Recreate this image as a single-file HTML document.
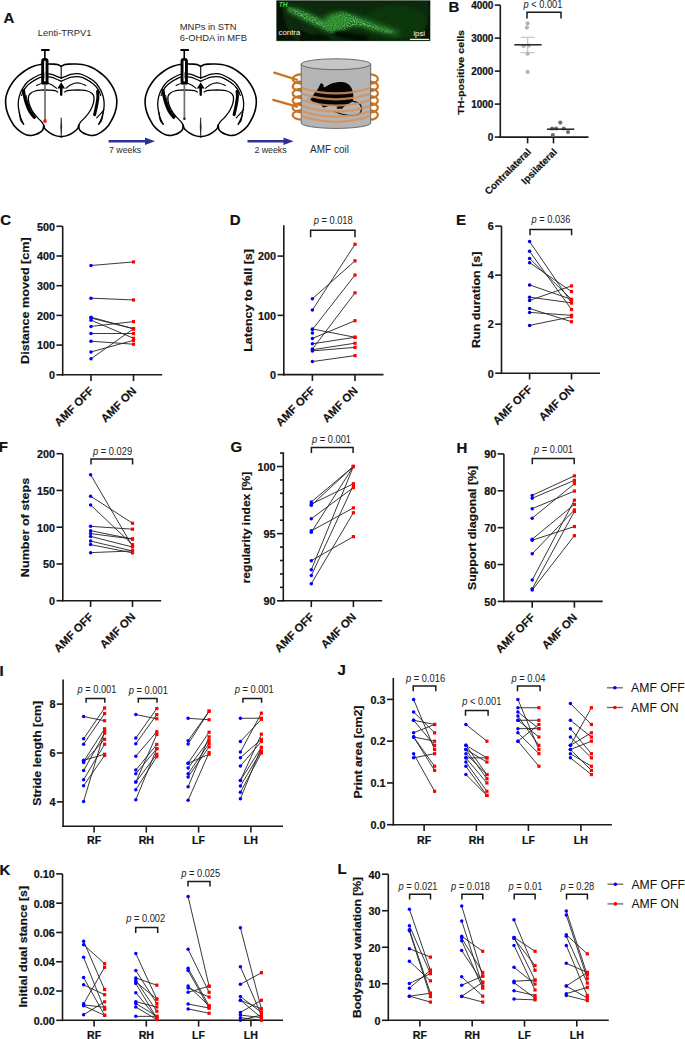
<!DOCTYPE html>
<html><head><meta charset="utf-8"><style>
html,body{margin:0;padding:0;background:#fff;}
svg{display:block;}
text[font-weight="bold"]{stroke:#111;stroke-width:0.2px;}
</style></head><body>
<svg width="685" height="1039" viewBox="0 0 685 1039" font-family='"Liberation Sans", sans-serif' fill="#111">
<rect width="685" height="1039" fill="#fff"/>
<text x="3.6" y="23" font-size="15" font-weight="bold">A</text>
<g transform="translate(0 0)">
<path d="M61.20 66.40 C60.58 66.10 58.77 64.98 57.50 64.60 C56.23 64.22 55.43 64.20 53.60 64.10 C51.77 64.00 48.72 63.93 46.50 64.00 C44.28 64.07 42.35 64.17 40.30 64.50 C38.25 64.83 36.08 65.37 34.20 66.00 C32.32 66.63 30.72 67.38 29.00 68.30 C27.28 69.22 25.48 70.40 23.90 71.50 C22.32 72.60 20.93 73.65 19.50 74.90 C18.07 76.15 16.57 77.57 15.30 79.00 C14.03 80.43 12.93 81.97 11.90 83.50 C10.87 85.03 9.90 86.62 9.10 88.20 C8.30 89.78 7.63 91.45 7.10 93.00 C6.57 94.55 6.15 95.92 5.90 97.50 C5.65 99.08 5.55 100.73 5.60 102.50 C5.65 104.27 5.90 106.43 6.20 108.10 C6.50 109.77 6.93 111.07 7.40 112.50 C7.87 113.93 8.35 115.25 9.00 116.70 C9.65 118.15 10.50 119.78 11.30 121.20 C12.10 122.62 12.92 124.00 13.80 125.20 C14.68 126.40 15.65 127.45 16.60 128.40 C17.55 129.35 18.47 130.12 19.50 130.90 C20.53 131.68 21.70 132.47 22.80 133.10 C23.90 133.73 24.98 134.32 26.10 134.70 C27.22 135.08 28.38 135.32 29.50 135.40 C30.62 135.48 31.67 135.38 32.80 135.20 C33.93 135.02 35.20 134.70 36.30 134.30 C37.40 133.90 38.48 133.35 39.40 132.80 C40.32 132.25 41.17 131.63 41.80 131.00 C42.43 130.37 42.88 129.97 43.20 129.00 C43.52 128.03 43.62 125.83 43.70 125.20" fill="none" stroke="#000" stroke-linecap="round" stroke-linejoin="round" stroke-width="1.6"/>
<path d="M43.70 125.20 C43.93 125.83 44.08 127.73 45.10 129.00 C46.12 130.27 48.07 131.70 49.80 132.80 C51.53 133.90 53.60 134.93 55.50 135.60 C57.40 136.27 60.25 136.60 61.20 136.80" fill="none" stroke="#000" stroke-linecap="round" stroke-linejoin="round" stroke-width="1.5"/>
<path d="M23.70 124.30 C23.23 123.67 21.60 122.25 20.90 120.50 C20.20 118.75 19.93 116.18 19.50 113.80 C19.07 111.42 18.45 108.57 18.30 106.20 C18.15 103.83 18.25 101.80 18.60 99.60 C18.95 97.40 19.62 95.05 20.40 93.00 C21.18 90.95 22.03 89.20 23.30 87.30 C24.57 85.40 26.27 83.18 28.00 81.60 C29.73 80.02 31.65 78.98 33.70 77.80 C35.75 76.62 38.33 75.20 40.30 74.50 C42.27 73.80 43.80 73.65 45.50 73.60 C47.20 73.55 48.83 73.83 50.50 74.20 C52.17 74.57 53.72 75.13 55.50 75.80 C57.28 76.47 60.25 77.80 61.20 78.20" fill="none" stroke="#000" stroke-linecap="round" stroke-linejoin="round" stroke-width="1.3"/>
<path d="M21.60 95.50 C22.03 94.52 23.03 91.45 24.20 89.60 C25.37 87.75 26.93 85.93 28.60 84.40 C30.27 82.87 32.25 81.57 34.20 80.40 C36.15 79.23 38.42 78.03 40.30 77.40 C42.18 76.77 43.72 76.63 45.50 76.60 C47.28 76.57 49.22 76.80 51.00 77.20 C52.78 77.60 54.50 78.33 56.20 79.00 C57.90 79.67 60.37 80.83 61.20 81.20" fill="none" stroke="#000" stroke-linecap="round" stroke-linejoin="round" stroke-width="1.2"/>
<path d="M22.60 92.40 C23.20 91.47 24.77 88.50 26.20 86.80 C27.63 85.10 29.40 83.52 31.20 82.20 C33.00 80.88 36.03 79.45 37.00 78.90" fill="none" stroke="#000" stroke-linecap="round" stroke-linejoin="round" stroke-width="0.8" stroke="#555"/>
<path d="M23.60 90.50 C23.77 91.58 24.13 94.83 24.60 97.00 C25.07 99.17 25.70 101.42 26.40 103.50 C27.10 105.58 27.93 107.72 28.80 109.50 C29.67 111.28 30.67 112.88 31.60 114.20 C32.53 115.52 33.93 116.87 34.40 117.40" fill="none" stroke="#000" stroke-linecap="round" stroke-linejoin="round" stroke-width="3.0"/>
<path d="M26.20 95.50 C26.43 96.58 26.97 99.92 27.60 102.00 C28.23 104.08 29.10 106.17 30.00 108.00 C30.90 109.83 32.00 111.58 33.00 113.00 C34.00 114.42 35.50 115.92 36.00 116.50" fill="none" stroke="#000" stroke-linecap="round" stroke-linejoin="round" stroke-width="1.0"/>
<path d="M57.80 92.00 C57.33 91.78 56.38 91.02 55.00 90.70 C53.62 90.38 51.87 90.20 49.50 90.10 C47.13 90.00 43.22 89.95 40.80 90.10 C38.38 90.25 36.63 90.52 35.00 91.00 C33.37 91.48 32.07 92.13 31.00 93.00 C29.93 93.87 28.97 94.63 28.60 96.20 C28.23 97.77 28.27 100.10 28.80 102.40 C29.33 104.70 30.50 107.62 31.80 110.00 C33.10 112.38 35.02 114.80 36.60 116.70 C38.18 118.60 40.12 119.98 41.30 121.40 C42.48 122.82 43.30 124.57 43.70 125.20" fill="none" stroke="#000" stroke-linecap="round" stroke-linejoin="round" stroke-width="1.3"/>
<path d="M36.60 85.60 C37.53 85.20 40.32 83.60 42.20 83.20 C44.08 82.80 46.18 82.87 47.90 83.20 C49.62 83.53 51.07 84.37 52.50 85.20 C53.93 86.03 55.83 87.70 56.50 88.20" fill="none" stroke="#000" stroke-linecap="round" stroke-linejoin="round" stroke-width="1.1"/>
<path d="M19.20 112.00 C19.43 112.92 19.85 115.45 20.60 117.50 C21.35 119.55 23.18 123.17 23.70 124.30" fill="none" stroke="#000" stroke-linecap="round" stroke-linejoin="round" stroke-width="1.1"/>
<g transform="translate(122.4 0) scale(-1 1)"><path d="M61.20 66.40 C60.58 66.10 58.77 64.98 57.50 64.60 C56.23 64.22 55.43 64.20 53.60 64.10 C51.77 64.00 48.72 63.93 46.50 64.00 C44.28 64.07 42.35 64.17 40.30 64.50 C38.25 64.83 36.08 65.37 34.20 66.00 C32.32 66.63 30.72 67.38 29.00 68.30 C27.28 69.22 25.48 70.40 23.90 71.50 C22.32 72.60 20.93 73.65 19.50 74.90 C18.07 76.15 16.57 77.57 15.30 79.00 C14.03 80.43 12.93 81.97 11.90 83.50 C10.87 85.03 9.90 86.62 9.10 88.20 C8.30 89.78 7.63 91.45 7.10 93.00 C6.57 94.55 6.15 95.92 5.90 97.50 C5.65 99.08 5.55 100.73 5.60 102.50 C5.65 104.27 5.90 106.43 6.20 108.10 C6.50 109.77 6.93 111.07 7.40 112.50 C7.87 113.93 8.35 115.25 9.00 116.70 C9.65 118.15 10.50 119.78 11.30 121.20 C12.10 122.62 12.92 124.00 13.80 125.20 C14.68 126.40 15.65 127.45 16.60 128.40 C17.55 129.35 18.47 130.12 19.50 130.90 C20.53 131.68 21.70 132.47 22.80 133.10 C23.90 133.73 24.98 134.32 26.10 134.70 C27.22 135.08 28.38 135.32 29.50 135.40 C30.62 135.48 31.67 135.38 32.80 135.20 C33.93 135.02 35.20 134.70 36.30 134.30 C37.40 133.90 38.48 133.35 39.40 132.80 C40.32 132.25 41.17 131.63 41.80 131.00 C42.43 130.37 42.88 129.97 43.20 129.00 C43.52 128.03 43.62 125.83 43.70 125.20" fill="none" stroke="#000" stroke-linecap="round" stroke-linejoin="round" stroke-width="1.6"/>
<path d="M43.70 125.20 C43.93 125.83 44.08 127.73 45.10 129.00 C46.12 130.27 48.07 131.70 49.80 132.80 C51.53 133.90 53.60 134.93 55.50 135.60 C57.40 136.27 60.25 136.60 61.20 136.80" fill="none" stroke="#000" stroke-linecap="round" stroke-linejoin="round" stroke-width="1.5"/>
<path d="M23.70 124.30 C23.23 123.67 21.60 122.25 20.90 120.50 C20.20 118.75 19.93 116.18 19.50 113.80 C19.07 111.42 18.45 108.57 18.30 106.20 C18.15 103.83 18.25 101.80 18.60 99.60 C18.95 97.40 19.62 95.05 20.40 93.00 C21.18 90.95 22.03 89.20 23.30 87.30 C24.57 85.40 26.27 83.18 28.00 81.60 C29.73 80.02 31.65 78.98 33.70 77.80 C35.75 76.62 38.33 75.20 40.30 74.50 C42.27 73.80 43.80 73.65 45.50 73.60 C47.20 73.55 48.83 73.83 50.50 74.20 C52.17 74.57 53.72 75.13 55.50 75.80 C57.28 76.47 60.25 77.80 61.20 78.20" fill="none" stroke="#000" stroke-linecap="round" stroke-linejoin="round" stroke-width="1.3"/>
<path d="M21.60 95.50 C22.03 94.52 23.03 91.45 24.20 89.60 C25.37 87.75 26.93 85.93 28.60 84.40 C30.27 82.87 32.25 81.57 34.20 80.40 C36.15 79.23 38.42 78.03 40.30 77.40 C42.18 76.77 43.72 76.63 45.50 76.60 C47.28 76.57 49.22 76.80 51.00 77.20 C52.78 77.60 54.50 78.33 56.20 79.00 C57.90 79.67 60.37 80.83 61.20 81.20" fill="none" stroke="#000" stroke-linecap="round" stroke-linejoin="round" stroke-width="1.2"/>
<path d="M22.60 92.40 C23.20 91.47 24.77 88.50 26.20 86.80 C27.63 85.10 29.40 83.52 31.20 82.20 C33.00 80.88 36.03 79.45 37.00 78.90" fill="none" stroke="#000" stroke-linecap="round" stroke-linejoin="round" stroke-width="0.8" stroke="#555"/>
<path d="M24.80 91.30 C24.75 92.25 24.42 95.05 24.50 97.00 C24.58 98.95 24.97 101.00 25.30 103.00 C25.63 105.00 26.08 107.07 26.50 109.00 C26.92 110.93 27.58 113.67 27.80 114.60" fill="none" stroke="#000" stroke-linecap="round" stroke-linejoin="round" stroke-width="3.0"/>
<path d="M25.70 117.90 C25.07 117.22 23.12 115.18 21.90 113.80 C20.68 112.42 18.98 110.30 18.40 109.60" fill="none" stroke="#000" stroke-linecap="round" stroke-linejoin="round" stroke-width="1.1"/>
<path d="M57.80 92.00 C57.33 91.78 56.38 91.02 55.00 90.70 C53.62 90.38 51.87 90.20 49.50 90.10 C47.13 90.00 43.22 89.95 40.80 90.10 C38.38 90.25 36.63 90.52 35.00 91.00 C33.37 91.48 32.07 92.13 31.00 93.00 C29.93 93.87 28.97 94.63 28.60 96.20 C28.23 97.77 28.27 100.10 28.80 102.40 C29.33 104.70 30.50 107.62 31.80 110.00 C33.10 112.38 35.02 114.80 36.60 116.70 C38.18 118.60 40.12 119.98 41.30 121.40 C42.48 122.82 43.30 124.57 43.70 125.20" fill="none" stroke="#000" stroke-linecap="round" stroke-linejoin="round" stroke-width="1.3"/>
<path d="M36.60 85.60 C37.53 85.20 40.32 83.60 42.20 83.20 C44.08 82.80 46.18 82.87 47.90 83.20 C49.62 83.53 51.07 84.37 52.50 85.20 C53.93 86.03 55.83 87.70 56.50 88.20" fill="none" stroke="#000" stroke-linecap="round" stroke-linejoin="round" stroke-width="1.1"/>
<path d="M19.20 112.00 C19.43 112.92 19.85 115.45 20.60 117.50 C21.35 119.55 23.18 123.17 23.70 124.30" fill="none" stroke="#000" stroke-linecap="round" stroke-linejoin="round" stroke-width="1.1"/></g>
<line x1="61.2" y1="66.4" x2="61.2" y2="78.2" stroke="#000" stroke-width="1.1"/>
<path d="M61.2 82.2 L57.300000000000004 88.4 L59.900000000000006 88.6 L60.1 95.2 Q61.2 96.6 62.300000000000004 95.2 L62.5 88.6 L65.10000000000001 88.4 Z" fill="#000"/>
<path d="M61.2 117.6 Q62.2 126.5 61.2 136.5 Q60.2 126.5 61.2 117.6 Z" fill="#000" stroke="#000" stroke-width="0.5"/>
</g>
<g transform="translate(139.5 0)">
<path d="M61.20 66.40 C60.58 66.10 58.77 64.98 57.50 64.60 C56.23 64.22 55.43 64.20 53.60 64.10 C51.77 64.00 48.72 63.93 46.50 64.00 C44.28 64.07 42.35 64.17 40.30 64.50 C38.25 64.83 36.08 65.37 34.20 66.00 C32.32 66.63 30.72 67.38 29.00 68.30 C27.28 69.22 25.48 70.40 23.90 71.50 C22.32 72.60 20.93 73.65 19.50 74.90 C18.07 76.15 16.57 77.57 15.30 79.00 C14.03 80.43 12.93 81.97 11.90 83.50 C10.87 85.03 9.90 86.62 9.10 88.20 C8.30 89.78 7.63 91.45 7.10 93.00 C6.57 94.55 6.15 95.92 5.90 97.50 C5.65 99.08 5.55 100.73 5.60 102.50 C5.65 104.27 5.90 106.43 6.20 108.10 C6.50 109.77 6.93 111.07 7.40 112.50 C7.87 113.93 8.35 115.25 9.00 116.70 C9.65 118.15 10.50 119.78 11.30 121.20 C12.10 122.62 12.92 124.00 13.80 125.20 C14.68 126.40 15.65 127.45 16.60 128.40 C17.55 129.35 18.47 130.12 19.50 130.90 C20.53 131.68 21.70 132.47 22.80 133.10 C23.90 133.73 24.98 134.32 26.10 134.70 C27.22 135.08 28.38 135.32 29.50 135.40 C30.62 135.48 31.67 135.38 32.80 135.20 C33.93 135.02 35.20 134.70 36.30 134.30 C37.40 133.90 38.48 133.35 39.40 132.80 C40.32 132.25 41.17 131.63 41.80 131.00 C42.43 130.37 42.88 129.97 43.20 129.00 C43.52 128.03 43.62 125.83 43.70 125.20" fill="none" stroke="#000" stroke-linecap="round" stroke-linejoin="round" stroke-width="1.6"/>
<path d="M43.70 125.20 C43.93 125.83 44.08 127.73 45.10 129.00 C46.12 130.27 48.07 131.70 49.80 132.80 C51.53 133.90 53.60 134.93 55.50 135.60 C57.40 136.27 60.25 136.60 61.20 136.80" fill="none" stroke="#000" stroke-linecap="round" stroke-linejoin="round" stroke-width="1.5"/>
<path d="M23.70 124.30 C23.23 123.67 21.60 122.25 20.90 120.50 C20.20 118.75 19.93 116.18 19.50 113.80 C19.07 111.42 18.45 108.57 18.30 106.20 C18.15 103.83 18.25 101.80 18.60 99.60 C18.95 97.40 19.62 95.05 20.40 93.00 C21.18 90.95 22.03 89.20 23.30 87.30 C24.57 85.40 26.27 83.18 28.00 81.60 C29.73 80.02 31.65 78.98 33.70 77.80 C35.75 76.62 38.33 75.20 40.30 74.50 C42.27 73.80 43.80 73.65 45.50 73.60 C47.20 73.55 48.83 73.83 50.50 74.20 C52.17 74.57 53.72 75.13 55.50 75.80 C57.28 76.47 60.25 77.80 61.20 78.20" fill="none" stroke="#000" stroke-linecap="round" stroke-linejoin="round" stroke-width="1.3"/>
<path d="M21.60 95.50 C22.03 94.52 23.03 91.45 24.20 89.60 C25.37 87.75 26.93 85.93 28.60 84.40 C30.27 82.87 32.25 81.57 34.20 80.40 C36.15 79.23 38.42 78.03 40.30 77.40 C42.18 76.77 43.72 76.63 45.50 76.60 C47.28 76.57 49.22 76.80 51.00 77.20 C52.78 77.60 54.50 78.33 56.20 79.00 C57.90 79.67 60.37 80.83 61.20 81.20" fill="none" stroke="#000" stroke-linecap="round" stroke-linejoin="round" stroke-width="1.2"/>
<path d="M22.60 92.40 C23.20 91.47 24.77 88.50 26.20 86.80 C27.63 85.10 29.40 83.52 31.20 82.20 C33.00 80.88 36.03 79.45 37.00 78.90" fill="none" stroke="#000" stroke-linecap="round" stroke-linejoin="round" stroke-width="0.8" stroke="#555"/>
<path d="M23.60 90.50 C23.77 91.58 24.13 94.83 24.60 97.00 C25.07 99.17 25.70 101.42 26.40 103.50 C27.10 105.58 27.93 107.72 28.80 109.50 C29.67 111.28 30.67 112.88 31.60 114.20 C32.53 115.52 33.93 116.87 34.40 117.40" fill="none" stroke="#000" stroke-linecap="round" stroke-linejoin="round" stroke-width="3.0"/>
<path d="M26.20 95.50 C26.43 96.58 26.97 99.92 27.60 102.00 C28.23 104.08 29.10 106.17 30.00 108.00 C30.90 109.83 32.00 111.58 33.00 113.00 C34.00 114.42 35.50 115.92 36.00 116.50" fill="none" stroke="#000" stroke-linecap="round" stroke-linejoin="round" stroke-width="1.0"/>
<path d="M57.80 92.00 C57.33 91.78 56.38 91.02 55.00 90.70 C53.62 90.38 51.87 90.20 49.50 90.10 C47.13 90.00 43.22 89.95 40.80 90.10 C38.38 90.25 36.63 90.52 35.00 91.00 C33.37 91.48 32.07 92.13 31.00 93.00 C29.93 93.87 28.97 94.63 28.60 96.20 C28.23 97.77 28.27 100.10 28.80 102.40 C29.33 104.70 30.50 107.62 31.80 110.00 C33.10 112.38 35.02 114.80 36.60 116.70 C38.18 118.60 40.12 119.98 41.30 121.40 C42.48 122.82 43.30 124.57 43.70 125.20" fill="none" stroke="#000" stroke-linecap="round" stroke-linejoin="round" stroke-width="1.3"/>
<path d="M36.60 85.60 C37.53 85.20 40.32 83.60 42.20 83.20 C44.08 82.80 46.18 82.87 47.90 83.20 C49.62 83.53 51.07 84.37 52.50 85.20 C53.93 86.03 55.83 87.70 56.50 88.20" fill="none" stroke="#000" stroke-linecap="round" stroke-linejoin="round" stroke-width="1.1"/>
<path d="M19.20 112.00 C19.43 112.92 19.85 115.45 20.60 117.50 C21.35 119.55 23.18 123.17 23.70 124.30" fill="none" stroke="#000" stroke-linecap="round" stroke-linejoin="round" stroke-width="1.1"/>
<g transform="translate(122.4 0) scale(-1 1)"><path d="M61.20 66.40 C60.58 66.10 58.77 64.98 57.50 64.60 C56.23 64.22 55.43 64.20 53.60 64.10 C51.77 64.00 48.72 63.93 46.50 64.00 C44.28 64.07 42.35 64.17 40.30 64.50 C38.25 64.83 36.08 65.37 34.20 66.00 C32.32 66.63 30.72 67.38 29.00 68.30 C27.28 69.22 25.48 70.40 23.90 71.50 C22.32 72.60 20.93 73.65 19.50 74.90 C18.07 76.15 16.57 77.57 15.30 79.00 C14.03 80.43 12.93 81.97 11.90 83.50 C10.87 85.03 9.90 86.62 9.10 88.20 C8.30 89.78 7.63 91.45 7.10 93.00 C6.57 94.55 6.15 95.92 5.90 97.50 C5.65 99.08 5.55 100.73 5.60 102.50 C5.65 104.27 5.90 106.43 6.20 108.10 C6.50 109.77 6.93 111.07 7.40 112.50 C7.87 113.93 8.35 115.25 9.00 116.70 C9.65 118.15 10.50 119.78 11.30 121.20 C12.10 122.62 12.92 124.00 13.80 125.20 C14.68 126.40 15.65 127.45 16.60 128.40 C17.55 129.35 18.47 130.12 19.50 130.90 C20.53 131.68 21.70 132.47 22.80 133.10 C23.90 133.73 24.98 134.32 26.10 134.70 C27.22 135.08 28.38 135.32 29.50 135.40 C30.62 135.48 31.67 135.38 32.80 135.20 C33.93 135.02 35.20 134.70 36.30 134.30 C37.40 133.90 38.48 133.35 39.40 132.80 C40.32 132.25 41.17 131.63 41.80 131.00 C42.43 130.37 42.88 129.97 43.20 129.00 C43.52 128.03 43.62 125.83 43.70 125.20" fill="none" stroke="#000" stroke-linecap="round" stroke-linejoin="round" stroke-width="1.6"/>
<path d="M43.70 125.20 C43.93 125.83 44.08 127.73 45.10 129.00 C46.12 130.27 48.07 131.70 49.80 132.80 C51.53 133.90 53.60 134.93 55.50 135.60 C57.40 136.27 60.25 136.60 61.20 136.80" fill="none" stroke="#000" stroke-linecap="round" stroke-linejoin="round" stroke-width="1.5"/>
<path d="M23.70 124.30 C23.23 123.67 21.60 122.25 20.90 120.50 C20.20 118.75 19.93 116.18 19.50 113.80 C19.07 111.42 18.45 108.57 18.30 106.20 C18.15 103.83 18.25 101.80 18.60 99.60 C18.95 97.40 19.62 95.05 20.40 93.00 C21.18 90.95 22.03 89.20 23.30 87.30 C24.57 85.40 26.27 83.18 28.00 81.60 C29.73 80.02 31.65 78.98 33.70 77.80 C35.75 76.62 38.33 75.20 40.30 74.50 C42.27 73.80 43.80 73.65 45.50 73.60 C47.20 73.55 48.83 73.83 50.50 74.20 C52.17 74.57 53.72 75.13 55.50 75.80 C57.28 76.47 60.25 77.80 61.20 78.20" fill="none" stroke="#000" stroke-linecap="round" stroke-linejoin="round" stroke-width="1.3"/>
<path d="M21.60 95.50 C22.03 94.52 23.03 91.45 24.20 89.60 C25.37 87.75 26.93 85.93 28.60 84.40 C30.27 82.87 32.25 81.57 34.20 80.40 C36.15 79.23 38.42 78.03 40.30 77.40 C42.18 76.77 43.72 76.63 45.50 76.60 C47.28 76.57 49.22 76.80 51.00 77.20 C52.78 77.60 54.50 78.33 56.20 79.00 C57.90 79.67 60.37 80.83 61.20 81.20" fill="none" stroke="#000" stroke-linecap="round" stroke-linejoin="round" stroke-width="1.2"/>
<path d="M22.60 92.40 C23.20 91.47 24.77 88.50 26.20 86.80 C27.63 85.10 29.40 83.52 31.20 82.20 C33.00 80.88 36.03 79.45 37.00 78.90" fill="none" stroke="#000" stroke-linecap="round" stroke-linejoin="round" stroke-width="0.8" stroke="#555"/>
<path d="M24.80 91.30 C24.75 92.25 24.42 95.05 24.50 97.00 C24.58 98.95 24.97 101.00 25.30 103.00 C25.63 105.00 26.08 107.07 26.50 109.00 C26.92 110.93 27.58 113.67 27.80 114.60" fill="none" stroke="#000" stroke-linecap="round" stroke-linejoin="round" stroke-width="3.0"/>
<path d="M25.70 117.90 C25.07 117.22 23.12 115.18 21.90 113.80 C20.68 112.42 18.98 110.30 18.40 109.60" fill="none" stroke="#000" stroke-linecap="round" stroke-linejoin="round" stroke-width="1.1"/>
<path d="M57.80 92.00 C57.33 91.78 56.38 91.02 55.00 90.70 C53.62 90.38 51.87 90.20 49.50 90.10 C47.13 90.00 43.22 89.95 40.80 90.10 C38.38 90.25 36.63 90.52 35.00 91.00 C33.37 91.48 32.07 92.13 31.00 93.00 C29.93 93.87 28.97 94.63 28.60 96.20 C28.23 97.77 28.27 100.10 28.80 102.40 C29.33 104.70 30.50 107.62 31.80 110.00 C33.10 112.38 35.02 114.80 36.60 116.70 C38.18 118.60 40.12 119.98 41.30 121.40 C42.48 122.82 43.30 124.57 43.70 125.20" fill="none" stroke="#000" stroke-linecap="round" stroke-linejoin="round" stroke-width="1.3"/>
<path d="M36.60 85.60 C37.53 85.20 40.32 83.60 42.20 83.20 C44.08 82.80 46.18 82.87 47.90 83.20 C49.62 83.53 51.07 84.37 52.50 85.20 C53.93 86.03 55.83 87.70 56.50 88.20" fill="none" stroke="#000" stroke-linecap="round" stroke-linejoin="round" stroke-width="1.1"/>
<path d="M19.20 112.00 C19.43 112.92 19.85 115.45 20.60 117.50 C21.35 119.55 23.18 123.17 23.70 124.30" fill="none" stroke="#000" stroke-linecap="round" stroke-linejoin="round" stroke-width="1.1"/></g>
<line x1="61.2" y1="66.4" x2="61.2" y2="78.2" stroke="#000" stroke-width="1.1"/>
<path d="M61.2 82.2 L57.300000000000004 88.4 L59.900000000000006 88.6 L60.1 95.2 Q61.2 96.6 62.300000000000004 95.2 L62.5 88.6 L65.10000000000001 88.4 Z" fill="#000"/>
<path d="M61.2 117.6 Q62.2 126.5 61.2 136.5 Q60.2 126.5 61.2 117.6 Z" fill="#000" stroke="#000" stroke-width="0.5"/>
</g>
<rect x="41.0" y="48.9" width="8.6" height="2.2" rx="0.6" fill="#000"/>
<line x1="44.85" y1="50.5" x2="44.85" y2="58.5" stroke="#000" stroke-width="1.6"/>
<rect x="42.65" y="59.35" width="4.4" height="23.7" rx="1.6" fill="#fff" stroke="#000" stroke-width="2.9"/>
<rect x="44.2" y="72.3" width="1.5" height="6.2" fill="#8c8c8c"/>
<rect x="41.4" y="81.8" width="7.3" height="2.6" rx="1.2" fill="#000"/>
<line x1="45" y1="84" x2="45" y2="119.5" stroke="#6e6e6e" stroke-width="1.7"/>
<circle cx="45" cy="121" r="1.9" fill="#ff1a1a"/>
<rect x="180.4" y="48.9" width="8.6" height="2.2" rx="0.6" fill="#000"/>
<line x1="184.25" y1="50.5" x2="184.25" y2="58.5" stroke="#000" stroke-width="1.6"/>
<rect x="182.05" y="59.35" width="4.4" height="23.7" rx="1.6" fill="#fff" stroke="#000" stroke-width="2.9"/>
<rect x="183.6" y="72.3" width="1.5" height="6.2" fill="#8c8c8c"/>
<rect x="180.8" y="81.8" width="7.3" height="2.6" rx="1.2" fill="#000"/>
<line x1="184.4" y1="84" x2="184.4" y2="119.5" stroke="#6e6e6e" stroke-width="1.7"/>
<circle cx="184.4" cy="118.8" r="1.2" fill="#222"/>
<line x1="108.6" y1="141.2" x2="146" y2="141.2" stroke="#2e3192" stroke-width="2.4"/><path d="M145 137.39999999999998 L155 141.2 L145 145.0 Z" fill="#2e3192"/>
<line x1="247.5" y1="141.2" x2="284.5" y2="141.2" stroke="#2e3192" stroke-width="2.4"/><path d="M283.5 137.39999999999998 L293.5 141.2 L283.5 145.0 Z" fill="#2e3192"/>
<g font-size="9.4" fill="#2a2a2a"><text x="37.8" y="35.8">Lenti-TRPV1</text><text x="179.8" y="29.9">MNPs in STN</text><text x="179.8" y="41.4">6-OHDA in MFB</text><text x="109" y="152.7" font-size="8.8">7 weeks</text><text x="254.4" y="152.9" font-size="8.8">2 weeks</text><text x="310" y="152.6" font-size="10">AMF coil</text></g>
<defs><filter id="gb" x="-30%" y="-80%" width="160%" height="260%"><feGaussianBlur stdDeviation="2.6"/></filter><filter id="gb2" x="-30%" y="-80%" width="160%" height="260%"><feGaussianBlur stdDeviation="1.3"/></filter><filter id="spk" x="0" y="0" width="100%" height="100%"><feTurbulence type="fractalNoise" baseFrequency="0.9" numOctaves="1" seed="3" result="n"/><feColorMatrix in="n" type="matrix" values="0 0 0 0 0.2  0 0 0 0 0.75  0 0 0 0 0.2  0 0 0 2.2 -0.75" result="g"/><feGaussianBlur in="SourceGraphic" stdDeviation="1.8" result="m"/><feComposite in="g" in2="m" operator="in" result="c"/><feGaussianBlur in="c" stdDeviation="0.35"/></filter><clipPath id="gc"><rect x="276.6" y="0.8" width="153.4" height="40"/></clipPath></defs>
<rect x="276.2" y="0" width="154.4" height="41.2" fill="#8a948a"/>
<rect x="276.6" y="0.8" width="153.4" height="40" fill="#061406"/>
<g clip-path="url(#gc)">
<path d="M282 1 L428 1 C430 14 428 28 420 40 L332 40 C326 34 318 32 312 36 C306 40 300 41 296 41 C288 34 283 20 282 1 Z" fill="#0e2c0e" filter="url(#gb2)"/>
<path d="M300 30 C312 36 322 38 332 40 L300 41 Z" fill="#061406"/>
<ellipse cx="395" cy="22" rx="32" ry="17" fill="#113811" opacity="0.9" filter="url(#gb)"/>
<path d="M287 6 C300 9 312 14 322 19 C332 14 344 12 356 15 C368 19 384 26 400 31 L398 36 C382 33 366 28 352 25 C344 25 336 30 330 32 C322 30 312 24 300 18 C294 15 289 12 286 10 Z" fill="#1f6a20" filter="url(#gb)"/>
<path d="M288 7 C297 9 306 12.5 314 16.5 C319 19 323 21 326 23 C330 15 338 11 346 13 C352 15 358 18 364 21 C374 25 384 28 394 31 L392 34 C382 32 372 29 362 26 C356 25 350 27 344 30 C338 33 330 33 325 29 C319 26 312 23 305 20 C298 16 292 13 287 11 Z" fill="#fff" filter="url(#spk)"/>
<path d="M324 17 C330 12 340 11 347 14 C350 19 347 26 341 29 C335 32 329 31 325 28 Z" fill="#2a8c2c" filter="url(#gb)" opacity="0.55"/>
<path d="M336 31 C346 32 356 34 368 36 L368 41 C356 41 344 39 334 35 Z" fill="#041004" filter="url(#gb2)"/>
</g>
<text x="278.8" y="6.8" font-size="6.6" font-style="italic" font-weight="bold" fill="#4fd24f" style="stroke:none">TH</text>
<text x="278.6" y="34.8" font-size="7.8" fill="#f4f4f4">contra</text>
<text x="413.4" y="35.6" font-size="7.8" fill="#f4f4f4">ipsi</text>
<line x1="409.9" y1="39.4" x2="429.2" y2="39.4" stroke="#f0f0f0" stroke-width="1.2"/>
<path d="M274.2 72.6 L297 79.8" stroke="#c9731f" stroke-width="2.2" fill="none" stroke-linecap="round"/>
<path d="M273.2 99.9 L297 106.6" stroke="#c9731f" stroke-width="2.2" fill="none" stroke-linecap="round"/>
<ellipse cx="301.6" cy="79.0" rx="9.0" ry="4.6" fill="none" stroke="#c9731f" stroke-width="2.2"/>
<ellipse cx="370.3" cy="79.0" rx="7.6" ry="4.6" fill="none" stroke="#c9731f" stroke-width="2.2"/>
<ellipse cx="301.6" cy="86.2" rx="9.0" ry="4.6" fill="none" stroke="#c9731f" stroke-width="2.2"/>
<ellipse cx="370.3" cy="86.2" rx="7.6" ry="4.6" fill="none" stroke="#c9731f" stroke-width="2.2"/>
<ellipse cx="301.6" cy="93.4" rx="9.0" ry="4.6" fill="none" stroke="#c9731f" stroke-width="2.2"/>
<ellipse cx="370.3" cy="93.4" rx="7.6" ry="4.6" fill="none" stroke="#c9731f" stroke-width="2.2"/>
<ellipse cx="301.6" cy="100.6" rx="9.0" ry="4.6" fill="none" stroke="#c9731f" stroke-width="2.2"/>
<ellipse cx="370.3" cy="100.6" rx="7.6" ry="4.6" fill="none" stroke="#c9731f" stroke-width="2.2"/>
<ellipse cx="301.6" cy="107.8" rx="9.0" ry="4.6" fill="none" stroke="#c9731f" stroke-width="2.2"/>
<ellipse cx="370.3" cy="107.8" rx="7.6" ry="4.6" fill="none" stroke="#c9731f" stroke-width="2.2"/>
<ellipse cx="301.6" cy="115.0" rx="9.0" ry="4.6" fill="none" stroke="#c9731f" stroke-width="2.2"/>
<ellipse cx="370.3" cy="115.0" rx="7.6" ry="4.6" fill="none" stroke="#c9731f" stroke-width="2.2"/>
<path d="M301.2 64.2 L301.2 123 A34.75 5.4 0 0 0 370.7 123 L370.7 64.2 Z" fill="#b4b4b4" stroke="#5e5e5e" stroke-width="0.9"/>
<ellipse cx="335.95" cy="64.2" rx="34.75" ry="5.4" fill="#c6c6c6" stroke="#5e5e5e" stroke-width="0.9"/>
<path d="M310.10 99.90 C310.78 98.82 312.92 95.22 314.20 93.40 C315.48 91.58 316.95 90.22 317.80 89.00 C318.65 87.78 318.80 87.03 319.30 86.10 C319.80 85.17 320.15 83.65 320.80 83.40 C321.45 83.15 322.65 83.97 323.20 84.60 C323.75 85.23 323.42 87.00 324.10 87.20 C324.78 87.40 325.78 86.48 327.30 85.80 C328.82 85.12 331.00 83.73 333.20 83.10 C335.40 82.47 338.32 82.00 340.50 82.00 C342.68 82.00 344.60 82.30 346.30 83.10 C348.00 83.90 349.60 85.33 350.70 86.80 C351.80 88.27 352.47 90.08 352.90 91.90 C353.33 93.72 353.42 96.12 353.30 97.70 C353.18 99.28 353.12 100.30 352.20 101.40 C351.28 102.50 349.27 103.33 347.80 104.30 C346.33 105.27 344.38 106.47 343.40 107.20 C342.42 107.93 343.00 108.50 341.90 108.70 C340.80 108.90 337.55 108.75 336.80 108.40 C336.05 108.05 338.00 107.03 337.40 106.60 C336.80 106.17 334.63 105.93 333.20 105.80 C331.77 105.67 329.78 105.68 328.80 105.80 C327.82 105.92 328.15 106.23 327.30 106.50 C326.45 106.77 324.55 107.45 323.70 107.40 C322.85 107.35 322.82 106.72 322.20 106.20 C321.58 105.68 320.97 104.87 320.00 104.30 C319.03 103.73 317.62 103.28 316.40 102.80 C315.18 102.32 313.75 101.88 312.70 101.40 C311.65 100.92 310.53 100.15 310.10 99.90 Z" fill="#050505"/>
<path d="M351.50 100.70 C352.58 101.05 356.38 101.83 358.00 102.80 C359.62 103.77 360.72 105.03 361.20 106.50 C361.68 107.97 361.43 110.27 360.90 111.60 C360.37 112.93 359.45 113.85 358.00 114.50 C356.55 115.15 354.63 115.50 352.20 115.50 C349.77 115.50 346.33 115.15 343.40 114.50 C340.47 113.85 336.07 112.08 334.60 111.60" fill="none" stroke="#050505" stroke-width="1.2" stroke-linecap="round"/>
<path d="M311.5 98 L306.6 95.6 M311.2 99.2 L306 99.6 M311.8 100.4 L307.4 102.8" stroke="#8a8a8a" stroke-width="0.45"/>
<path d="M301.6 87.80000000000001 Q336 99.0 370.4 87.80000000000001" fill="none" stroke="#d7925a" stroke-opacity="0.85" stroke-width="2.3"/>
<path d="M301.6 93.7 Q336 104.89999999999999 370.4 93.7" fill="none" stroke="#d7925a" stroke-opacity="0.85" stroke-width="2.3"/>
<path d="M301.6 100.0 Q336 111.19999999999999 370.4 100.0" fill="none" stroke="#d7925a" stroke-opacity="0.85" stroke-width="2.3"/>
<path d="M301.6 105.9 Q336 117.1 370.4 105.9" fill="none" stroke="#d7925a" stroke-opacity="0.85" stroke-width="2.3"/>
<path d="M301.6 111.2 Q336 122.39999999999999 370.4 111.2" fill="none" stroke="#d7925a" stroke-opacity="0.85" stroke-width="2.3"/>
<path d="M301.6 116.2 Q336 127.39999999999999 370.4 116.2" fill="none" stroke="#d7925a" stroke-opacity="0.85" stroke-width="2.3"/>
<text x="448.6" y="12.3" font-size="15" font-weight="bold">B</text>
<line x1="500.3" y1="5.1" x2="500.3" y2="137.9" stroke="#1a1a1a" stroke-width="1.6"/>
<line x1="494.8" y1="137.1" x2="500.3" y2="137.1" stroke="#1a1a1a" stroke-width="1.6"/>
<text x="493.4" y="141.1" font-size="10.0" font-weight="bold" text-anchor="end">0</text>
<line x1="494.8" y1="104.1" x2="500.3" y2="104.1" stroke="#1a1a1a" stroke-width="1.6"/>
<text x="493.4" y="108.1" font-size="10.0" font-weight="bold" text-anchor="end">1000</text>
<line x1="494.8" y1="71.1" x2="500.3" y2="71.1" stroke="#1a1a1a" stroke-width="1.6"/>
<text x="493.4" y="75.1" font-size="10.0" font-weight="bold" text-anchor="end">2000</text>
<line x1="494.8" y1="38.1" x2="500.3" y2="38.1" stroke="#1a1a1a" stroke-width="1.6"/>
<text x="493.4" y="42.1" font-size="10.0" font-weight="bold" text-anchor="end">3000</text>
<line x1="494.8" y1="5.1" x2="500.3" y2="5.1" stroke="#1a1a1a" stroke-width="1.6"/>
<text x="493.4" y="9.1" font-size="10.0" font-weight="bold" text-anchor="end">4000</text>
<line x1="499.5" y1="137.1" x2="588.5" y2="137.1" stroke="#1a1a1a" stroke-width="1.6"/>
<line x1="527.6" y1="137.1" x2="527.6" y2="143.4" stroke="#1a1a1a" stroke-width="1.6"/>
<line x1="553.5" y1="137.1" x2="553.5" y2="143.4" stroke="#1a1a1a" stroke-width="1.6"/>
<text transform="translate(463.7 72.4) scale(0.92 1) rotate(-90)" font-size="10.7" font-weight="bold" text-anchor="middle">TH-positive cells</text>
<text transform="translate(531.6 152.6) rotate(-45)" font-size="9.8" font-weight="bold" text-anchor="end">Contralateral</text>
<text transform="translate(557.6 152.6) rotate(-45)" font-size="9.8" font-weight="bold" text-anchor="end">Ipsilateral</text>
<path d="M520.6 37.4H534.6M527.6 37.4V52.6M520.6 52.6H534.6" stroke="#c8c8c8" stroke-width="1.4" fill="none"/>
<circle cx="527.6" cy="23.4" r="2.1" fill="#b4b4b4"/>
<circle cx="526.9" cy="27.6" r="2.1" fill="#b4b4b4"/>
<circle cx="523.6" cy="46" r="2.1" fill="#b4b4b4"/>
<circle cx="528.8" cy="45.5" r="2.1" fill="#b4b4b4"/>
<circle cx="527.6" cy="53.7" r="2.1" fill="#b4b4b4"/>
<circle cx="527.6" cy="71.9" r="2.1" fill="#b4b4b4"/>
<line x1="514.3" y1="44.8" x2="541.6" y2="44.8" stroke="#222" stroke-width="1.5"/>
<circle cx="560.3" cy="122.6" r="2.1" fill="#6e6e6e"/>
<circle cx="552.1" cy="128.5" r="2.1" fill="#6e6e6e"/>
<circle cx="556.1" cy="128.5" r="2.1" fill="#6e6e6e"/>
<circle cx="563.8" cy="128.5" r="2.1" fill="#6e6e6e"/>
<circle cx="568" cy="132" r="2.1" fill="#6e6e6e"/>
<circle cx="552.8" cy="135" r="2.1" fill="#6e6e6e"/>
<line x1="547" y1="129.2" x2="574.3" y2="129.2" stroke="#222" stroke-width="1.5"/>
<text transform="translate(542.9 7.7) scale(0.91 1)" font-size="10.2" text-anchor="middle" fill="#222"><tspan font-style="italic">p</tspan> &lt; 0.001</text>
<path d="M527 18.6V12.2H561V18.6" fill="none" stroke="#1a1a1a" stroke-width="1.5"/>
<text x="0.3" y="224.6" font-size="15" font-weight="bold">C</text>
<line x1="62.7" y1="226.3" x2="62.7" y2="375.6" stroke="#1a1a1a" stroke-width="1.6"/>
<line x1="56.4" y1="374.8" x2="62.7" y2="374.8" stroke="#1a1a1a" stroke-width="1.6"/>
<text x="55" y="379.12" font-size="10.8" font-weight="bold" text-anchor="end">0</text>
<line x1="56.4" y1="345.1" x2="62.7" y2="345.1" stroke="#1a1a1a" stroke-width="1.6"/>
<text x="55" y="349.42" font-size="10.8" font-weight="bold" text-anchor="end">100</text>
<line x1="56.4" y1="315.4" x2="62.7" y2="315.4" stroke="#1a1a1a" stroke-width="1.6"/>
<text x="55" y="319.72" font-size="10.8" font-weight="bold" text-anchor="end">200</text>
<line x1="56.4" y1="285.7" x2="62.7" y2="285.7" stroke="#1a1a1a" stroke-width="1.6"/>
<text x="55" y="290.02" font-size="10.8" font-weight="bold" text-anchor="end">300</text>
<line x1="56.4" y1="256" x2="62.7" y2="256" stroke="#1a1a1a" stroke-width="1.6"/>
<text x="55" y="260.32" font-size="10.8" font-weight="bold" text-anchor="end">400</text>
<line x1="56.4" y1="226.3" x2="62.7" y2="226.3" stroke="#1a1a1a" stroke-width="1.6"/>
<text x="55" y="230.62" font-size="10.8" font-weight="bold" text-anchor="end">500</text>
<line x1="61.9" y1="374.8" x2="162.2" y2="374.8" stroke="#1a1a1a" stroke-width="1.6"/>
<line x1="91" y1="374.8" x2="91" y2="381.1" stroke="#1a1a1a" stroke-width="1.6"/>
<line x1="133.5" y1="374.8" x2="133.5" y2="381.1" stroke="#1a1a1a" stroke-width="1.6"/>
<text transform="translate(28.8 300.6) scale(0.92 1) rotate(-90)" font-size="12.6" font-weight="bold" text-anchor="middle">Distance moved [cm]</text>
<text transform="translate(94.5 391.6) rotate(-45)" font-size="11.3" font-weight="bold" text-anchor="end">AMF OFF</text>
<text transform="translate(137 391.6) rotate(-45)" font-size="11.3" font-weight="bold" text-anchor="end">AMF ON</text>
<line x1="91" y1="265.5" x2="133.5" y2="261.94" stroke="#222" stroke-width="0.9"/>
<line x1="91" y1="298.17" x2="133.5" y2="299.96" stroke="#222" stroke-width="0.9"/>
<line x1="91" y1="317.18" x2="133.5" y2="328.76" stroke="#222" stroke-width="0.9"/>
<line x1="91" y1="318.07" x2="133.5" y2="328.76" stroke="#222" stroke-width="0.9"/>
<line x1="91" y1="320.15" x2="133.5" y2="338.27" stroke="#222" stroke-width="0.9"/>
<line x1="91" y1="326.39" x2="133.5" y2="321.64" stroke="#222" stroke-width="0.9"/>
<line x1="91" y1="333.52" x2="133.5" y2="333.52" stroke="#222" stroke-width="0.9"/>
<line x1="91" y1="341.24" x2="133.5" y2="344.21" stroke="#222" stroke-width="0.9"/>
<line x1="91" y1="351.93" x2="133.5" y2="340.35" stroke="#222" stroke-width="0.9"/>
<line x1="91" y1="358.76" x2="133.5" y2="328.76" stroke="#222" stroke-width="0.9"/>
<circle cx="91" cy="265.5" r="1.75" fill="#0000ff"/>
<circle cx="91" cy="298.17" r="1.75" fill="#0000ff"/>
<circle cx="91" cy="317.18" r="1.75" fill="#0000ff"/>
<circle cx="91" cy="318.07" r="1.75" fill="#0000ff"/>
<circle cx="91" cy="320.15" r="1.75" fill="#0000ff"/>
<circle cx="91" cy="326.39" r="1.75" fill="#0000ff"/>
<circle cx="91" cy="333.52" r="1.75" fill="#0000ff"/>
<circle cx="91" cy="341.24" r="1.75" fill="#0000ff"/>
<circle cx="91" cy="351.93" r="1.75" fill="#0000ff"/>
<circle cx="91" cy="358.76" r="1.75" fill="#0000ff"/>
<rect x="131.9" y="260.34" width="3.2" height="3.2" fill="#ff0000"/>
<rect x="131.9" y="298.36" width="3.2" height="3.2" fill="#ff0000"/>
<rect x="131.9" y="327.16" width="3.2" height="3.2" fill="#ff0000"/>
<rect x="131.9" y="327.16" width="3.2" height="3.2" fill="#ff0000"/>
<rect x="131.9" y="336.67" width="3.2" height="3.2" fill="#ff0000"/>
<rect x="131.9" y="320.04" width="3.2" height="3.2" fill="#ff0000"/>
<rect x="131.9" y="331.92" width="3.2" height="3.2" fill="#ff0000"/>
<rect x="131.9" y="342.61" width="3.2" height="3.2" fill="#ff0000"/>
<rect x="131.9" y="338.75" width="3.2" height="3.2" fill="#ff0000"/>
<rect x="131.9" y="327.16" width="3.2" height="3.2" fill="#ff0000"/>
<text x="229.7" y="225.2" font-size="15" font-weight="bold">D</text>
<line x1="283.8" y1="225.2" x2="283.8" y2="375.4" stroke="#1a1a1a" stroke-width="1.6"/>
<line x1="277.5" y1="374.6" x2="283.8" y2="374.6" stroke="#1a1a1a" stroke-width="1.6"/>
<text x="276.1" y="378.92" font-size="10.8" font-weight="bold" text-anchor="end">0</text>
<line x1="277.5" y1="315.35" x2="283.8" y2="315.35" stroke="#1a1a1a" stroke-width="1.6"/>
<text x="276.1" y="319.67" font-size="10.8" font-weight="bold" text-anchor="end">100</text>
<line x1="277.5" y1="256.1" x2="283.8" y2="256.1" stroke="#1a1a1a" stroke-width="1.6"/>
<text x="276.1" y="260.42" font-size="10.8" font-weight="bold" text-anchor="end">200</text>
<line x1="283" y1="374.6" x2="383.5" y2="374.6" stroke="#1a1a1a" stroke-width="1.6"/>
<line x1="312.4" y1="374.6" x2="312.4" y2="380.9" stroke="#1a1a1a" stroke-width="1.6"/>
<line x1="355" y1="374.6" x2="355" y2="380.9" stroke="#1a1a1a" stroke-width="1.6"/>
<text transform="translate(252.2 300.4) scale(0.92 1) rotate(-90)" font-size="12.5" font-weight="bold" text-anchor="middle">Latency to fall [s]</text>
<text transform="translate(315.9 391.4) rotate(-45)" font-size="11.3" font-weight="bold" text-anchor="end">AMF OFF</text>
<text transform="translate(358.5 391.4) rotate(-45)" font-size="11.3" font-weight="bold" text-anchor="end">AMF ON</text>
<line x1="312.4" y1="298.76" x2="355" y2="260.84" stroke="#222" stroke-width="0.9"/>
<line x1="312.4" y1="310.02" x2="355" y2="244.25" stroke="#222" stroke-width="0.9"/>
<line x1="312.4" y1="329.57" x2="355" y2="275.06" stroke="#222" stroke-width="0.9"/>
<line x1="312.4" y1="328.98" x2="355" y2="337.27" stroke="#222" stroke-width="0.9"/>
<line x1="312.4" y1="338.46" x2="355" y2="320.68" stroke="#222" stroke-width="0.9"/>
<line x1="312.4" y1="343.79" x2="355" y2="337.27" stroke="#222" stroke-width="0.9"/>
<line x1="312.4" y1="349.12" x2="355" y2="292.84" stroke="#222" stroke-width="0.9"/>
<line x1="312.4" y1="349.72" x2="355" y2="343.2" stroke="#222" stroke-width="0.9"/>
<line x1="312.4" y1="350.9" x2="355" y2="347.35" stroke="#222" stroke-width="0.9"/>
<line x1="312.4" y1="361.56" x2="355" y2="355.64" stroke="#222" stroke-width="0.9"/>
<circle cx="312.4" cy="298.76" r="1.75" fill="#0000ff"/>
<circle cx="312.4" cy="310.02" r="1.75" fill="#0000ff"/>
<circle cx="312.4" cy="329.57" r="1.75" fill="#0000ff"/>
<circle cx="312.4" cy="328.98" r="1.75" fill="#0000ff"/>
<circle cx="312.4" cy="333.12" r="1.75" fill="#0000ff"/>
<circle cx="312.4" cy="338.46" r="1.75" fill="#0000ff"/>
<circle cx="312.4" cy="343.79" r="1.75" fill="#0000ff"/>
<circle cx="312.4" cy="349.12" r="1.75" fill="#0000ff"/>
<circle cx="312.4" cy="349.72" r="1.75" fill="#0000ff"/>
<circle cx="312.4" cy="350.9" r="1.75" fill="#0000ff"/>
<circle cx="312.4" cy="361.56" r="1.75" fill="#0000ff"/>
<rect x="353.4" y="259.24" width="3.2" height="3.2" fill="#ff0000"/>
<rect x="353.4" y="242.65" width="3.2" height="3.2" fill="#ff0000"/>
<rect x="353.4" y="273.46" width="3.2" height="3.2" fill="#ff0000"/>
<rect x="353.4" y="335.67" width="3.2" height="3.2" fill="#ff0000"/>
<rect x="353.4" y="319.08" width="3.2" height="3.2" fill="#ff0000"/>
<rect x="353.4" y="335.67" width="3.2" height="3.2" fill="#ff0000"/>
<rect x="353.4" y="291.24" width="3.2" height="3.2" fill="#ff0000"/>
<rect x="353.4" y="341.6" width="3.2" height="3.2" fill="#ff0000"/>
<rect x="353.4" y="345.75" width="3.2" height="3.2" fill="#ff0000"/>
<rect x="353.4" y="354.04" width="3.2" height="3.2" fill="#ff0000"/>
<text transform="translate(333.2 224.2) scale(0.91 1)" font-size="10.2" text-anchor="middle" fill="#222"><tspan font-style="italic">p</tspan> = 0.018</text>
<path d="M310.6 237.2V230.2H355V237.2" fill="none" stroke="#1a1a1a" stroke-width="1.5"/>
<text x="455.9" y="224.7" font-size="15" font-weight="bold">E</text>
<line x1="501.5" y1="226.1" x2="501.5" y2="374" stroke="#1a1a1a" stroke-width="1.6"/>
<line x1="495.2" y1="373.2" x2="501.5" y2="373.2" stroke="#1a1a1a" stroke-width="1.6"/>
<text x="493.8" y="377.52" font-size="10.8" font-weight="bold" text-anchor="end">0</text>
<line x1="495.2" y1="324.17" x2="501.5" y2="324.17" stroke="#1a1a1a" stroke-width="1.6"/>
<text x="493.8" y="328.49" font-size="10.8" font-weight="bold" text-anchor="end">2</text>
<line x1="495.2" y1="275.13" x2="501.5" y2="275.13" stroke="#1a1a1a" stroke-width="1.6"/>
<text x="493.8" y="279.45" font-size="10.8" font-weight="bold" text-anchor="end">4</text>
<line x1="495.2" y1="226.1" x2="501.5" y2="226.1" stroke="#1a1a1a" stroke-width="1.6"/>
<text x="493.8" y="230.42" font-size="10.8" font-weight="bold" text-anchor="end">6</text>
<line x1="500.7" y1="373.2" x2="600" y2="373.2" stroke="#1a1a1a" stroke-width="1.6"/>
<line x1="529.6" y1="373.2" x2="529.6" y2="379.5" stroke="#1a1a1a" stroke-width="1.6"/>
<line x1="571.5" y1="373.2" x2="571.5" y2="379.5" stroke="#1a1a1a" stroke-width="1.6"/>
<text transform="translate(480.2 299.8) scale(0.92 1) rotate(-90)" font-size="12.5" font-weight="bold" text-anchor="middle">Run duration [s]</text>
<text transform="translate(533.1 390) rotate(-45)" font-size="11.3" font-weight="bold" text-anchor="end">AMF OFF</text>
<text transform="translate(575 390) rotate(-45)" font-size="11.3" font-weight="bold" text-anchor="end">AMF ON</text>
<line x1="529.6" y1="241.55" x2="571.5" y2="302.84" stroke="#222" stroke-width="0.9"/>
<line x1="529.6" y1="251.35" x2="571.5" y2="309.46" stroke="#222" stroke-width="0.9"/>
<line x1="529.6" y1="258.46" x2="571.5" y2="299.4" stroke="#222" stroke-width="0.9"/>
<line x1="529.6" y1="262.63" x2="571.5" y2="291.56" stroke="#222" stroke-width="0.9"/>
<line x1="529.6" y1="284.94" x2="571.5" y2="299.4" stroke="#222" stroke-width="0.9"/>
<line x1="529.6" y1="297.2" x2="571.5" y2="302.84" stroke="#222" stroke-width="0.9"/>
<line x1="529.6" y1="300.39" x2="571.5" y2="285.92" stroke="#222" stroke-width="0.9"/>
<line x1="529.6" y1="308.48" x2="571.5" y2="321.71" stroke="#222" stroke-width="0.9"/>
<line x1="529.6" y1="312.4" x2="571.5" y2="315.34" stroke="#222" stroke-width="0.9"/>
<line x1="529.6" y1="325.39" x2="571.5" y2="316.81" stroke="#222" stroke-width="0.9"/>
<circle cx="529.6" cy="241.55" r="1.75" fill="#0000cc"/>
<circle cx="529.6" cy="251.35" r="1.75" fill="#0000cc"/>
<circle cx="529.6" cy="258.46" r="1.75" fill="#0000cc"/>
<circle cx="529.6" cy="262.63" r="1.75" fill="#0000cc"/>
<circle cx="529.6" cy="284.94" r="1.75" fill="#0000cc"/>
<circle cx="529.6" cy="297.2" r="1.75" fill="#0000cc"/>
<circle cx="529.6" cy="300.39" r="1.75" fill="#0000cc"/>
<circle cx="529.6" cy="308.48" r="1.75" fill="#0000cc"/>
<circle cx="529.6" cy="312.4" r="1.75" fill="#0000cc"/>
<circle cx="529.6" cy="325.39" r="1.75" fill="#0000cc"/>
<rect x="569.9" y="301.24" width="3.2" height="3.2" fill="#ff0000"/>
<rect x="569.9" y="307.86" width="3.2" height="3.2" fill="#ff0000"/>
<rect x="569.9" y="297.8" width="3.2" height="3.2" fill="#ff0000"/>
<rect x="569.9" y="289.96" width="3.2" height="3.2" fill="#ff0000"/>
<rect x="569.9" y="297.8" width="3.2" height="3.2" fill="#ff0000"/>
<rect x="569.9" y="301.24" width="3.2" height="3.2" fill="#ff0000"/>
<rect x="569.9" y="284.32" width="3.2" height="3.2" fill="#ff0000"/>
<rect x="569.9" y="320.11" width="3.2" height="3.2" fill="#ff0000"/>
<rect x="569.9" y="313.74" width="3.2" height="3.2" fill="#ff0000"/>
<rect x="569.9" y="315.21" width="3.2" height="3.2" fill="#ff0000"/>
<text transform="translate(550.9 223.3) scale(0.91 1)" font-size="10.2" text-anchor="middle" fill="#222"><tspan font-style="italic">p</tspan> = 0.036</text>
<path d="M530 235.3V229.6H571.6V235.3" fill="none" stroke="#1a1a1a" stroke-width="1.5"/>
<text x="-1.3" y="452" font-size="15" font-weight="bold">F</text>
<line x1="62.8" y1="453.7" x2="62.8" y2="601.5" stroke="#1a1a1a" stroke-width="1.6"/>
<line x1="56.5" y1="600.7" x2="62.8" y2="600.7" stroke="#1a1a1a" stroke-width="1.6"/>
<text x="55.1" y="605.02" font-size="10.8" font-weight="bold" text-anchor="end">0</text>
<line x1="56.5" y1="563.95" x2="62.8" y2="563.95" stroke="#1a1a1a" stroke-width="1.6"/>
<text x="55.1" y="568.27" font-size="10.8" font-weight="bold" text-anchor="end">50</text>
<line x1="56.5" y1="527.2" x2="62.8" y2="527.2" stroke="#1a1a1a" stroke-width="1.6"/>
<text x="55.1" y="531.52" font-size="10.8" font-weight="bold" text-anchor="end">100</text>
<line x1="56.5" y1="490.45" x2="62.8" y2="490.45" stroke="#1a1a1a" stroke-width="1.6"/>
<text x="55.1" y="494.77" font-size="10.8" font-weight="bold" text-anchor="end">150</text>
<line x1="56.5" y1="453.7" x2="62.8" y2="453.7" stroke="#1a1a1a" stroke-width="1.6"/>
<text x="55.1" y="458.02" font-size="10.8" font-weight="bold" text-anchor="end">200</text>
<line x1="62" y1="600.7" x2="161.2" y2="600.7" stroke="#1a1a1a" stroke-width="1.6"/>
<line x1="90.6" y1="600.7" x2="90.6" y2="607" stroke="#1a1a1a" stroke-width="1.6"/>
<line x1="132.5" y1="600.7" x2="132.5" y2="607" stroke="#1a1a1a" stroke-width="1.6"/>
<text transform="translate(28.6 527.5) scale(0.92 1) rotate(-90)" font-size="12.6" font-weight="bold" text-anchor="middle">Number of steps</text>
<text transform="translate(94.1 617.5) rotate(-45)" font-size="11.3" font-weight="bold" text-anchor="end">AMF OFF</text>
<text transform="translate(136 617.5) rotate(-45)" font-size="11.3" font-weight="bold" text-anchor="end">AMF ON</text>
<line x1="90.6" y1="474.72" x2="132.5" y2="546.31" stroke="#222" stroke-width="0.9"/>
<line x1="90.6" y1="496.18" x2="132.5" y2="523.23" stroke="#222" stroke-width="0.9"/>
<line x1="90.6" y1="505" x2="132.5" y2="544.62" stroke="#222" stroke-width="0.9"/>
<line x1="90.6" y1="526.32" x2="132.5" y2="529.18" stroke="#222" stroke-width="0.9"/>
<line x1="90.6" y1="530.73" x2="132.5" y2="539.03" stroke="#222" stroke-width="0.9"/>
<line x1="90.6" y1="533.59" x2="132.5" y2="539.03" stroke="#222" stroke-width="0.9"/>
<line x1="90.6" y1="536.39" x2="132.5" y2="547.05" stroke="#222" stroke-width="0.9"/>
<line x1="90.6" y1="541.09" x2="132.5" y2="550.94" stroke="#222" stroke-width="0.9"/>
<line x1="90.6" y1="544.62" x2="132.5" y2="552.85" stroke="#222" stroke-width="0.9"/>
<line x1="90.6" y1="552.63" x2="132.5" y2="550.94" stroke="#222" stroke-width="0.9"/>
<circle cx="90.6" cy="474.72" r="1.75" fill="#0000ff"/>
<circle cx="90.6" cy="496.18" r="1.75" fill="#0000ff"/>
<circle cx="90.6" cy="505" r="1.75" fill="#0000ff"/>
<circle cx="90.6" cy="526.32" r="1.75" fill="#0000ff"/>
<circle cx="90.6" cy="530.73" r="1.75" fill="#0000ff"/>
<circle cx="90.6" cy="533.59" r="1.75" fill="#0000ff"/>
<circle cx="90.6" cy="536.39" r="1.75" fill="#0000ff"/>
<circle cx="90.6" cy="541.09" r="1.75" fill="#0000ff"/>
<circle cx="90.6" cy="544.62" r="1.75" fill="#0000ff"/>
<circle cx="90.6" cy="552.63" r="1.75" fill="#0000ff"/>
<rect x="130.9" y="544.71" width="3.2" height="3.2" fill="#ff0000"/>
<rect x="130.9" y="521.63" width="3.2" height="3.2" fill="#ff0000"/>
<rect x="130.9" y="543.02" width="3.2" height="3.2" fill="#ff0000"/>
<rect x="130.9" y="527.58" width="3.2" height="3.2" fill="#ff0000"/>
<rect x="130.9" y="537.43" width="3.2" height="3.2" fill="#ff0000"/>
<rect x="130.9" y="537.43" width="3.2" height="3.2" fill="#ff0000"/>
<rect x="130.9" y="545.45" width="3.2" height="3.2" fill="#ff0000"/>
<rect x="130.9" y="549.34" width="3.2" height="3.2" fill="#ff0000"/>
<rect x="130.9" y="551.25" width="3.2" height="3.2" fill="#ff0000"/>
<rect x="130.9" y="549.34" width="3.2" height="3.2" fill="#ff0000"/>
<text transform="translate(112.6 454.8) scale(0.91 1)" font-size="10.2" text-anchor="middle" fill="#222"><tspan font-style="italic">p</tspan> = 0.029</text>
<path d="M91 464.5V458.9H132.6V464.5" fill="none" stroke="#1a1a1a" stroke-width="1.5"/>
<text x="230.4" y="452" font-size="15" font-weight="bold">G</text>
<line x1="283.3" y1="452.3" x2="283.3" y2="601.6" stroke="#1a1a1a" stroke-width="1.6"/>
<line x1="277" y1="600.8" x2="283.3" y2="600.8" stroke="#1a1a1a" stroke-width="1.6"/>
<text x="275.6" y="605.12" font-size="10.8" font-weight="bold" text-anchor="end">90</text>
<line x1="277" y1="533.65" x2="283.3" y2="533.65" stroke="#1a1a1a" stroke-width="1.6"/>
<text x="275.6" y="537.97" font-size="10.8" font-weight="bold" text-anchor="end">95</text>
<line x1="277" y1="466.5" x2="283.3" y2="466.5" stroke="#1a1a1a" stroke-width="1.6"/>
<text x="275.6" y="470.82" font-size="10.8" font-weight="bold" text-anchor="end">100</text>
<line x1="280" y1="587.37" x2="283.3" y2="587.37" stroke="#1a1a1a" stroke-width="1.6"/>
<line x1="280" y1="573.94" x2="283.3" y2="573.94" stroke="#1a1a1a" stroke-width="1.6"/>
<line x1="280" y1="560.51" x2="283.3" y2="560.51" stroke="#1a1a1a" stroke-width="1.6"/>
<line x1="280" y1="547.08" x2="283.3" y2="547.08" stroke="#1a1a1a" stroke-width="1.6"/>
<line x1="280" y1="520.22" x2="283.3" y2="520.22" stroke="#1a1a1a" stroke-width="1.6"/>
<line x1="280" y1="506.79" x2="283.3" y2="506.79" stroke="#1a1a1a" stroke-width="1.6"/>
<line x1="280" y1="493.36" x2="283.3" y2="493.36" stroke="#1a1a1a" stroke-width="1.6"/>
<line x1="280" y1="479.93" x2="283.3" y2="479.93" stroke="#1a1a1a" stroke-width="1.6"/>
<line x1="280" y1="453.07" x2="283.3" y2="453.07" stroke="#1a1a1a" stroke-width="1.6"/>
<line x1="282.5" y1="600.8" x2="382.2" y2="600.8" stroke="#1a1a1a" stroke-width="1.6"/>
<line x1="311.3" y1="600.8" x2="311.3" y2="607.1" stroke="#1a1a1a" stroke-width="1.6"/>
<line x1="353.4" y1="600.8" x2="353.4" y2="607.1" stroke="#1a1a1a" stroke-width="1.6"/>
<text transform="translate(249.8 527.5) scale(0.92 1) rotate(-90)" font-size="12.05" font-weight="bold" text-anchor="middle">regularity index [%]</text>
<text transform="translate(314.8 617.6) rotate(-45)" font-size="11.3" font-weight="bold" text-anchor="end">AMF OFF</text>
<text transform="translate(356.9 617.6) rotate(-45)" font-size="11.3" font-weight="bold" text-anchor="end">AMF ON</text>
<line x1="311.3" y1="501.96" x2="353.4" y2="466.5" stroke="#222" stroke-width="0.9"/>
<line x1="311.3" y1="505.31" x2="353.4" y2="466.5" stroke="#222" stroke-width="0.9"/>
<line x1="311.3" y1="504.1" x2="353.4" y2="483.69" stroke="#222" stroke-width="0.9"/>
<line x1="311.3" y1="518.74" x2="353.4" y2="487.59" stroke="#222" stroke-width="0.9"/>
<line x1="311.3" y1="530.83" x2="353.4" y2="507.86" stroke="#222" stroke-width="0.9"/>
<line x1="311.3" y1="532.31" x2="353.4" y2="466.5" stroke="#222" stroke-width="0.9"/>
<line x1="311.3" y1="560.64" x2="353.4" y2="536.6" stroke="#222" stroke-width="0.9"/>
<line x1="311.3" y1="569.78" x2="353.4" y2="466.5" stroke="#222" stroke-width="0.9"/>
<line x1="311.3" y1="575.55" x2="353.4" y2="485.3" stroke="#222" stroke-width="0.9"/>
<line x1="311.3" y1="583.74" x2="353.4" y2="512.7" stroke="#222" stroke-width="0.9"/>
<circle cx="311.3" cy="501.96" r="1.75" fill="#0000ff"/>
<circle cx="311.3" cy="505.31" r="1.75" fill="#0000ff"/>
<circle cx="311.3" cy="504.1" r="1.75" fill="#0000ff"/>
<circle cx="311.3" cy="518.74" r="1.75" fill="#0000ff"/>
<circle cx="311.3" cy="530.83" r="1.75" fill="#0000ff"/>
<circle cx="311.3" cy="532.31" r="1.75" fill="#0000ff"/>
<circle cx="311.3" cy="560.64" r="1.75" fill="#0000ff"/>
<circle cx="311.3" cy="569.78" r="1.75" fill="#0000ff"/>
<circle cx="311.3" cy="575.55" r="1.75" fill="#0000ff"/>
<circle cx="311.3" cy="583.74" r="1.75" fill="#0000ff"/>
<rect x="351.8" y="464.9" width="3.2" height="3.2" fill="#ff0000"/>
<rect x="351.8" y="464.9" width="3.2" height="3.2" fill="#ff0000"/>
<rect x="351.8" y="482.09" width="3.2" height="3.2" fill="#ff0000"/>
<rect x="351.8" y="485.99" width="3.2" height="3.2" fill="#ff0000"/>
<rect x="351.8" y="506.26" width="3.2" height="3.2" fill="#ff0000"/>
<rect x="351.8" y="464.9" width="3.2" height="3.2" fill="#ff0000"/>
<rect x="351.8" y="535" width="3.2" height="3.2" fill="#ff0000"/>
<rect x="351.8" y="464.9" width="3.2" height="3.2" fill="#ff0000"/>
<rect x="351.8" y="483.7" width="3.2" height="3.2" fill="#ff0000"/>
<rect x="351.8" y="511.1" width="3.2" height="3.2" fill="#ff0000"/>
<text transform="translate(331.5 442.7) scale(0.91 1)" font-size="10.2" text-anchor="middle" fill="#222"><tspan font-style="italic">p</tspan> = 0.001</text>
<path d="M311.4 453V447.5H353.1V453" fill="none" stroke="#1a1a1a" stroke-width="1.5"/>
<text x="456.6" y="452.9" font-size="15" font-weight="bold">H</text>
<line x1="503.9" y1="453.9" x2="503.9" y2="602.2" stroke="#1a1a1a" stroke-width="1.6"/>
<line x1="497.6" y1="601.4" x2="503.9" y2="601.4" stroke="#1a1a1a" stroke-width="1.6"/>
<text x="496.2" y="605.72" font-size="10.8" font-weight="bold" text-anchor="end">50</text>
<line x1="497.6" y1="564.52" x2="503.9" y2="564.52" stroke="#1a1a1a" stroke-width="1.6"/>
<text x="496.2" y="568.85" font-size="10.8" font-weight="bold" text-anchor="end">60</text>
<line x1="497.6" y1="527.65" x2="503.9" y2="527.65" stroke="#1a1a1a" stroke-width="1.6"/>
<text x="496.2" y="531.97" font-size="10.8" font-weight="bold" text-anchor="end">70</text>
<line x1="497.6" y1="490.77" x2="503.9" y2="490.77" stroke="#1a1a1a" stroke-width="1.6"/>
<text x="496.2" y="495.09" font-size="10.8" font-weight="bold" text-anchor="end">80</text>
<line x1="497.6" y1="453.9" x2="503.9" y2="453.9" stroke="#1a1a1a" stroke-width="1.6"/>
<text x="496.2" y="458.22" font-size="10.8" font-weight="bold" text-anchor="end">90</text>
<line x1="503.1" y1="601.4" x2="602.7" y2="601.4" stroke="#1a1a1a" stroke-width="1.6"/>
<line x1="532.2" y1="601.4" x2="532.2" y2="607.7" stroke="#1a1a1a" stroke-width="1.6"/>
<line x1="574.4" y1="601.4" x2="574.4" y2="607.7" stroke="#1a1a1a" stroke-width="1.6"/>
<text transform="translate(476.4 527.9) scale(0.92 1) rotate(-90)" font-size="12.35" font-weight="bold" text-anchor="middle">Support diagonal [%]</text>
<text transform="translate(535.7 618.2) rotate(-45)" font-size="11.3" font-weight="bold" text-anchor="end">AMF OFF</text>
<text transform="translate(577.9 618.2) rotate(-45)" font-size="11.3" font-weight="bold" text-anchor="end">AMF ON</text>
<line x1="532.2" y1="495.38" x2="574.4" y2="475.88" stroke="#222" stroke-width="0.9"/>
<line x1="532.2" y1="498.26" x2="574.4" y2="480.38" stroke="#222" stroke-width="0.9"/>
<line x1="532.2" y1="508.66" x2="574.4" y2="491.07" stroke="#222" stroke-width="0.9"/>
<line x1="532.2" y1="518.17" x2="574.4" y2="483.69" stroke="#222" stroke-width="0.9"/>
<line x1="532.2" y1="539.15" x2="574.4" y2="504.46" stroke="#222" stroke-width="0.9"/>
<line x1="532.2" y1="540.19" x2="574.4" y2="526.54" stroke="#222" stroke-width="0.9"/>
<line x1="532.2" y1="553.83" x2="574.4" y2="509.95" stroke="#222" stroke-width="0.9"/>
<line x1="532.2" y1="580.12" x2="574.4" y2="500.18" stroke="#222" stroke-width="0.9"/>
<line x1="532.2" y1="588.83" x2="574.4" y2="511.46" stroke="#222" stroke-width="0.9"/>
<line x1="532.2" y1="590.12" x2="574.4" y2="535.65" stroke="#222" stroke-width="0.9"/>
<circle cx="532.2" cy="495.38" r="1.75" fill="#0000ff"/>
<circle cx="532.2" cy="498.26" r="1.75" fill="#0000ff"/>
<circle cx="532.2" cy="508.66" r="1.75" fill="#0000ff"/>
<circle cx="532.2" cy="518.17" r="1.75" fill="#0000ff"/>
<circle cx="532.2" cy="539.15" r="1.75" fill="#0000ff"/>
<circle cx="532.2" cy="540.19" r="1.75" fill="#0000ff"/>
<circle cx="532.2" cy="553.83" r="1.75" fill="#0000ff"/>
<circle cx="532.2" cy="580.12" r="1.75" fill="#0000ff"/>
<circle cx="532.2" cy="588.83" r="1.75" fill="#0000ff"/>
<circle cx="532.2" cy="590.12" r="1.75" fill="#0000ff"/>
<rect x="572.8" y="474.28" width="3.2" height="3.2" fill="#ff0000"/>
<rect x="572.8" y="478.78" width="3.2" height="3.2" fill="#ff0000"/>
<rect x="572.8" y="489.47" width="3.2" height="3.2" fill="#ff0000"/>
<rect x="572.8" y="482.09" width="3.2" height="3.2" fill="#ff0000"/>
<rect x="572.8" y="502.86" width="3.2" height="3.2" fill="#ff0000"/>
<rect x="572.8" y="524.94" width="3.2" height="3.2" fill="#ff0000"/>
<rect x="572.8" y="508.35" width="3.2" height="3.2" fill="#ff0000"/>
<rect x="572.8" y="498.58" width="3.2" height="3.2" fill="#ff0000"/>
<rect x="572.8" y="509.86" width="3.2" height="3.2" fill="#ff0000"/>
<rect x="572.8" y="534.05" width="3.2" height="3.2" fill="#ff0000"/>
<text transform="translate(553.5 453.1) scale(0.91 1)" font-size="10.2" text-anchor="middle" fill="#222"><tspan font-style="italic">p</tspan> = 0.001</text>
<path d="M532.3 464.3V458.6H574.2V464.3" fill="none" stroke="#1a1a1a" stroke-width="1.5"/>
<text x="-0.5" y="675.8" font-size="15" font-weight="bold">I</text>
<line x1="63.1" y1="679.4" x2="63.1" y2="827.1" stroke="#1a1a1a" stroke-width="1.6"/>
<line x1="56.8" y1="801.9" x2="63.1" y2="801.9" stroke="#1a1a1a" stroke-width="1.6"/>
<text x="55.4" y="806.22" font-size="10.8" font-weight="bold" text-anchor="end">4</text>
<line x1="56.8" y1="753" x2="63.1" y2="753" stroke="#1a1a1a" stroke-width="1.6"/>
<text x="55.4" y="757.32" font-size="10.8" font-weight="bold" text-anchor="end">6</text>
<line x1="56.8" y1="704.1" x2="63.1" y2="704.1" stroke="#1a1a1a" stroke-width="1.6"/>
<text x="55.4" y="708.42" font-size="10.8" font-weight="bold" text-anchor="end">8</text>
<line x1="62.3" y1="826.3" x2="283" y2="826.3" stroke="#1a1a1a" stroke-width="1.6"/>
<line x1="94.1" y1="826.3" x2="94.1" y2="832.6" stroke="#1a1a1a" stroke-width="1.6"/>
<line x1="146.3" y1="826.3" x2="146.3" y2="832.6" stroke="#1a1a1a" stroke-width="1.6"/>
<line x1="198.6" y1="826.3" x2="198.6" y2="832.6" stroke="#1a1a1a" stroke-width="1.6"/>
<line x1="250.9" y1="826.3" x2="250.9" y2="832.6" stroke="#1a1a1a" stroke-width="1.6"/>
<text transform="translate(41.2 753.3) scale(0.92 1) rotate(-90)" font-size="12.35" font-weight="bold" text-anchor="middle">Stride length [cm]</text>
<text x="94.1" y="843.6" font-size="10.6" font-weight="bold" text-anchor="middle">RF</text>
<text x="146.3" y="843.6" font-size="10.6" font-weight="bold" text-anchor="middle">RH</text>
<text x="198.6" y="843.6" font-size="10.6" font-weight="bold" text-anchor="middle">LF</text>
<text x="250.9" y="843.6" font-size="10.6" font-weight="bold" text-anchor="middle">LH</text>
<line x1="83.6" y1="716.57" x2="104.6" y2="720.73" stroke="#222" stroke-width="0.9"/>
<line x1="83.6" y1="738.82" x2="104.6" y2="708.01" stroke="#222" stroke-width="0.9"/>
<line x1="83.6" y1="744.2" x2="104.6" y2="713.64" stroke="#222" stroke-width="0.9"/>
<line x1="83.6" y1="760.34" x2="104.6" y2="754.22" stroke="#222" stroke-width="0.9"/>
<line x1="83.6" y1="761.56" x2="104.6" y2="728.79" stroke="#222" stroke-width="0.9"/>
<line x1="83.6" y1="762.54" x2="104.6" y2="739.31" stroke="#222" stroke-width="0.9"/>
<line x1="83.6" y1="770.6" x2="104.6" y2="733.2" stroke="#222" stroke-width="0.9"/>
<line x1="83.6" y1="779.65" x2="104.6" y2="744.2" stroke="#222" stroke-width="0.9"/>
<line x1="83.6" y1="785.76" x2="104.6" y2="755.44" stroke="#222" stroke-width="0.9"/>
<line x1="83.6" y1="801.41" x2="104.6" y2="731.24" stroke="#222" stroke-width="0.9"/>
<circle cx="83.6" cy="716.57" r="1.75" fill="#0000ff"/>
<circle cx="83.6" cy="738.82" r="1.75" fill="#0000ff"/>
<circle cx="83.6" cy="744.2" r="1.75" fill="#0000ff"/>
<circle cx="83.6" cy="760.34" r="1.75" fill="#0000ff"/>
<circle cx="83.6" cy="761.56" r="1.75" fill="#0000ff"/>
<circle cx="83.6" cy="762.54" r="1.75" fill="#0000ff"/>
<circle cx="83.6" cy="770.6" r="1.75" fill="#0000ff"/>
<circle cx="83.6" cy="779.65" r="1.75" fill="#0000ff"/>
<circle cx="83.6" cy="785.76" r="1.75" fill="#0000ff"/>
<circle cx="83.6" cy="801.41" r="1.75" fill="#0000ff"/>
<rect x="103" y="719.13" width="3.2" height="3.2" fill="#ff0000"/>
<rect x="103" y="706.41" width="3.2" height="3.2" fill="#ff0000"/>
<rect x="103" y="712.04" width="3.2" height="3.2" fill="#ff0000"/>
<rect x="103" y="752.62" width="3.2" height="3.2" fill="#ff0000"/>
<rect x="103" y="727.19" width="3.2" height="3.2" fill="#ff0000"/>
<rect x="103" y="737.71" width="3.2" height="3.2" fill="#ff0000"/>
<rect x="103" y="731.6" width="3.2" height="3.2" fill="#ff0000"/>
<rect x="103" y="742.6" width="3.2" height="3.2" fill="#ff0000"/>
<rect x="103" y="753.84" width="3.2" height="3.2" fill="#ff0000"/>
<rect x="103" y="729.64" width="3.2" height="3.2" fill="#ff0000"/>
<line x1="135.8" y1="714.61" x2="156.8" y2="718.77" stroke="#222" stroke-width="0.9"/>
<line x1="135.8" y1="738.09" x2="156.8" y2="708.5" stroke="#222" stroke-width="0.9"/>
<line x1="135.8" y1="743.71" x2="156.8" y2="714.61" stroke="#222" stroke-width="0.9"/>
<line x1="135.8" y1="756.18" x2="156.8" y2="731.73" stroke="#222" stroke-width="0.9"/>
<line x1="135.8" y1="770.12" x2="156.8" y2="744.44" stroke="#222" stroke-width="0.9"/>
<line x1="135.8" y1="773.78" x2="156.8" y2="748.6" stroke="#222" stroke-width="0.9"/>
<line x1="135.8" y1="782.1" x2="156.8" y2="734.42" stroke="#222" stroke-width="0.9"/>
<line x1="135.8" y1="782.1" x2="156.8" y2="754.22" stroke="#222" stroke-width="0.9"/>
<line x1="135.8" y1="789.67" x2="156.8" y2="756.67" stroke="#222" stroke-width="0.9"/>
<line x1="135.8" y1="799.7" x2="156.8" y2="748.6" stroke="#222" stroke-width="0.9"/>
<circle cx="135.8" cy="714.61" r="1.75" fill="#0000ff"/>
<circle cx="135.8" cy="738.09" r="1.75" fill="#0000ff"/>
<circle cx="135.8" cy="743.71" r="1.75" fill="#0000ff"/>
<circle cx="135.8" cy="756.18" r="1.75" fill="#0000ff"/>
<circle cx="135.8" cy="770.12" r="1.75" fill="#0000ff"/>
<circle cx="135.8" cy="773.78" r="1.75" fill="#0000ff"/>
<circle cx="135.8" cy="782.1" r="1.75" fill="#0000ff"/>
<circle cx="135.8" cy="782.1" r="1.75" fill="#0000ff"/>
<circle cx="135.8" cy="789.67" r="1.75" fill="#0000ff"/>
<circle cx="135.8" cy="799.7" r="1.75" fill="#0000ff"/>
<rect x="155.2" y="717.17" width="3.2" height="3.2" fill="#ff0000"/>
<rect x="155.2" y="706.9" width="3.2" height="3.2" fill="#ff0000"/>
<rect x="155.2" y="713.01" width="3.2" height="3.2" fill="#ff0000"/>
<rect x="155.2" y="730.13" width="3.2" height="3.2" fill="#ff0000"/>
<rect x="155.2" y="742.84" width="3.2" height="3.2" fill="#ff0000"/>
<rect x="155.2" y="747" width="3.2" height="3.2" fill="#ff0000"/>
<rect x="155.2" y="732.82" width="3.2" height="3.2" fill="#ff0000"/>
<rect x="155.2" y="752.62" width="3.2" height="3.2" fill="#ff0000"/>
<rect x="155.2" y="755.07" width="3.2" height="3.2" fill="#ff0000"/>
<rect x="155.2" y="747" width="3.2" height="3.2" fill="#ff0000"/>
<line x1="188.1" y1="718.28" x2="209.1" y2="719.75" stroke="#222" stroke-width="0.9"/>
<line x1="188.1" y1="740.77" x2="209.1" y2="711.19" stroke="#222" stroke-width="0.9"/>
<line x1="188.1" y1="743.95" x2="209.1" y2="711.19" stroke="#222" stroke-width="0.9"/>
<line x1="188.1" y1="763.27" x2="209.1" y2="732.22" stroke="#222" stroke-width="0.9"/>
<line x1="188.1" y1="763.27" x2="209.1" y2="754.22" stroke="#222" stroke-width="0.9"/>
<line x1="188.1" y1="767.91" x2="209.1" y2="740.29" stroke="#222" stroke-width="0.9"/>
<line x1="188.1" y1="773.78" x2="209.1" y2="743.46" stroke="#222" stroke-width="0.9"/>
<line x1="188.1" y1="776.96" x2="209.1" y2="746.89" stroke="#222" stroke-width="0.9"/>
<line x1="188.1" y1="786.74" x2="209.1" y2="736.86" stroke="#222" stroke-width="0.9"/>
<line x1="188.1" y1="800.19" x2="209.1" y2="752.51" stroke="#222" stroke-width="0.9"/>
<circle cx="188.1" cy="718.28" r="1.75" fill="#0000ff"/>
<circle cx="188.1" cy="740.77" r="1.75" fill="#0000ff"/>
<circle cx="188.1" cy="743.95" r="1.75" fill="#0000ff"/>
<circle cx="188.1" cy="763.27" r="1.75" fill="#0000ff"/>
<circle cx="188.1" cy="763.27" r="1.75" fill="#0000ff"/>
<circle cx="188.1" cy="767.91" r="1.75" fill="#0000ff"/>
<circle cx="188.1" cy="773.78" r="1.75" fill="#0000ff"/>
<circle cx="188.1" cy="776.96" r="1.75" fill="#0000ff"/>
<circle cx="188.1" cy="786.74" r="1.75" fill="#0000ff"/>
<circle cx="188.1" cy="800.19" r="1.75" fill="#0000ff"/>
<rect x="207.5" y="718.15" width="3.2" height="3.2" fill="#ff0000"/>
<rect x="207.5" y="709.59" width="3.2" height="3.2" fill="#ff0000"/>
<rect x="207.5" y="709.59" width="3.2" height="3.2" fill="#ff0000"/>
<rect x="207.5" y="730.62" width="3.2" height="3.2" fill="#ff0000"/>
<rect x="207.5" y="752.62" width="3.2" height="3.2" fill="#ff0000"/>
<rect x="207.5" y="738.69" width="3.2" height="3.2" fill="#ff0000"/>
<rect x="207.5" y="741.86" width="3.2" height="3.2" fill="#ff0000"/>
<rect x="207.5" y="745.29" width="3.2" height="3.2" fill="#ff0000"/>
<rect x="207.5" y="735.26" width="3.2" height="3.2" fill="#ff0000"/>
<rect x="207.5" y="750.91" width="3.2" height="3.2" fill="#ff0000"/>
<line x1="240.4" y1="718.28" x2="261.4" y2="718.28" stroke="#222" stroke-width="0.9"/>
<line x1="240.4" y1="741.51" x2="261.4" y2="719.26" stroke="#222" stroke-width="0.9"/>
<line x1="240.4" y1="752.02" x2="261.4" y2="713.15" stroke="#222" stroke-width="0.9"/>
<line x1="240.4" y1="757.65" x2="261.4" y2="739.31" stroke="#222" stroke-width="0.9"/>
<line x1="240.4" y1="765.96" x2="261.4" y2="741.51" stroke="#222" stroke-width="0.9"/>
<line x1="240.4" y1="780.38" x2="261.4" y2="734.17" stroke="#222" stroke-width="0.9"/>
<line x1="240.4" y1="780.38" x2="261.4" y2="747.38" stroke="#222" stroke-width="0.9"/>
<line x1="240.4" y1="786.01" x2="261.4" y2="751.04" stroke="#222" stroke-width="0.9"/>
<line x1="240.4" y1="792.36" x2="261.4" y2="753" stroke="#222" stroke-width="0.9"/>
<line x1="240.4" y1="798.72" x2="261.4" y2="747.38" stroke="#222" stroke-width="0.9"/>
<circle cx="240.4" cy="718.28" r="1.75" fill="#0000ff"/>
<circle cx="240.4" cy="741.51" r="1.75" fill="#0000ff"/>
<circle cx="240.4" cy="752.02" r="1.75" fill="#0000ff"/>
<circle cx="240.4" cy="757.65" r="1.75" fill="#0000ff"/>
<circle cx="240.4" cy="765.96" r="1.75" fill="#0000ff"/>
<circle cx="240.4" cy="780.38" r="1.75" fill="#0000ff"/>
<circle cx="240.4" cy="780.38" r="1.75" fill="#0000ff"/>
<circle cx="240.4" cy="786.01" r="1.75" fill="#0000ff"/>
<circle cx="240.4" cy="792.36" r="1.75" fill="#0000ff"/>
<circle cx="240.4" cy="798.72" r="1.75" fill="#0000ff"/>
<rect x="259.8" y="716.68" width="3.2" height="3.2" fill="#ff0000"/>
<rect x="259.8" y="717.66" width="3.2" height="3.2" fill="#ff0000"/>
<rect x="259.8" y="711.55" width="3.2" height="3.2" fill="#ff0000"/>
<rect x="259.8" y="737.71" width="3.2" height="3.2" fill="#ff0000"/>
<rect x="259.8" y="739.91" width="3.2" height="3.2" fill="#ff0000"/>
<rect x="259.8" y="732.57" width="3.2" height="3.2" fill="#ff0000"/>
<rect x="259.8" y="745.78" width="3.2" height="3.2" fill="#ff0000"/>
<rect x="259.8" y="749.44" width="3.2" height="3.2" fill="#ff0000"/>
<rect x="259.8" y="751.4" width="3.2" height="3.2" fill="#ff0000"/>
<rect x="259.8" y="745.78" width="3.2" height="3.2" fill="#ff0000"/>
<text transform="translate(96.9 693.3) scale(0.91 1)" font-size="10.2" text-anchor="middle" fill="#222"><tspan font-style="italic">p</tspan> = 0.001</text>
<path d="M86.1 702.8V698.4H104.8V702.8" fill="none" stroke="#1a1a1a" stroke-width="1.5"/>
<text transform="translate(148.3 693.8) scale(0.91 1)" font-size="10.2" text-anchor="middle" fill="#222"><tspan font-style="italic">p</tspan> = 0.001</text>
<path d="M138.3 702.8V698.4H157V702.8" fill="none" stroke="#1a1a1a" stroke-width="1.5"/>
<text transform="translate(254.2 693.3) scale(0.91 1)" font-size="10.2" text-anchor="middle" fill="#222"><tspan font-style="italic">p</tspan> = 0.001</text>
<path d="M242.9 702.8V698.4H261.6V702.8" fill="none" stroke="#1a1a1a" stroke-width="1.5"/>
<text x="337.6" y="675.2" font-size="15" font-weight="bold">J</text>
<line x1="393.3" y1="677.9" x2="393.3" y2="825.5" stroke="#1a1a1a" stroke-width="1.6"/>
<line x1="387" y1="824.7" x2="393.3" y2="824.7" stroke="#1a1a1a" stroke-width="1.6"/>
<text x="385.6" y="829.02" font-size="10.8" font-weight="bold" text-anchor="end">0.0</text>
<line x1="387" y1="782.93" x2="393.3" y2="782.93" stroke="#1a1a1a" stroke-width="1.6"/>
<text x="385.6" y="787.25" font-size="10.8" font-weight="bold" text-anchor="end">0.1</text>
<line x1="387" y1="741.17" x2="393.3" y2="741.17" stroke="#1a1a1a" stroke-width="1.6"/>
<text x="385.6" y="745.49" font-size="10.8" font-weight="bold" text-anchor="end">0.2</text>
<line x1="387" y1="699.4" x2="393.3" y2="699.4" stroke="#1a1a1a" stroke-width="1.6"/>
<text x="385.6" y="703.72" font-size="10.8" font-weight="bold" text-anchor="end">0.3</text>
<line x1="392.5" y1="824.7" x2="611.9" y2="824.7" stroke="#1a1a1a" stroke-width="1.6"/>
<line x1="424.1" y1="824.7" x2="424.1" y2="831" stroke="#1a1a1a" stroke-width="1.6"/>
<line x1="476.4" y1="824.7" x2="476.4" y2="831" stroke="#1a1a1a" stroke-width="1.6"/>
<line x1="528.4" y1="824.7" x2="528.4" y2="831" stroke="#1a1a1a" stroke-width="1.6"/>
<line x1="580.9" y1="824.7" x2="580.9" y2="831" stroke="#1a1a1a" stroke-width="1.6"/>
<text transform="translate(362.4 752) scale(0.92 1) rotate(-90)" font-size="12.3" font-weight="bold" text-anchor="middle">Print area [cm2]</text>
<text x="424.1" y="843.6" font-size="10.6" font-weight="bold" text-anchor="middle">RF</text>
<text x="476.4" y="843.6" font-size="10.6" font-weight="bold" text-anchor="middle">RH</text>
<text x="528.4" y="843.6" font-size="10.6" font-weight="bold" text-anchor="middle">LF</text>
<text x="580.9" y="843.6" font-size="10.6" font-weight="bold" text-anchor="middle">LH</text>
<line x1="413.6" y1="699.4" x2="434.6" y2="749.52" stroke="#222" stroke-width="0.9"/>
<line x1="413.6" y1="711.93" x2="434.6" y2="732.81" stroke="#222" stroke-width="0.9"/>
<line x1="413.6" y1="720.28" x2="434.6" y2="724.46" stroke="#222" stroke-width="0.9"/>
<line x1="413.6" y1="720.28" x2="434.6" y2="745.34" stroke="#222" stroke-width="0.9"/>
<line x1="413.6" y1="732.81" x2="434.6" y2="724.46" stroke="#222" stroke-width="0.9"/>
<line x1="413.6" y1="736.99" x2="434.6" y2="741.17" stroke="#222" stroke-width="0.9"/>
<line x1="413.6" y1="736.99" x2="434.6" y2="766.23" stroke="#222" stroke-width="0.9"/>
<line x1="413.6" y1="736.99" x2="434.6" y2="770.4" stroke="#222" stroke-width="0.9"/>
<line x1="413.6" y1="757.87" x2="434.6" y2="753.7" stroke="#222" stroke-width="0.9"/>
<line x1="413.6" y1="753.7" x2="434.6" y2="791.29" stroke="#222" stroke-width="0.9"/>
<circle cx="413.6" cy="699.4" r="1.75" fill="#0000ff"/>
<circle cx="413.6" cy="711.93" r="1.75" fill="#0000ff"/>
<circle cx="413.6" cy="720.28" r="1.75" fill="#0000ff"/>
<circle cx="413.6" cy="720.28" r="1.75" fill="#0000ff"/>
<circle cx="413.6" cy="732.81" r="1.75" fill="#0000ff"/>
<circle cx="413.6" cy="736.99" r="1.75" fill="#0000ff"/>
<circle cx="413.6" cy="736.99" r="1.75" fill="#0000ff"/>
<circle cx="413.6" cy="736.99" r="1.75" fill="#0000ff"/>
<circle cx="413.6" cy="757.87" r="1.75" fill="#0000ff"/>
<circle cx="413.6" cy="753.7" r="1.75" fill="#0000ff"/>
<rect x="433" y="747.92" width="3.2" height="3.2" fill="#ff0000"/>
<rect x="433" y="731.21" width="3.2" height="3.2" fill="#ff0000"/>
<rect x="433" y="722.86" width="3.2" height="3.2" fill="#ff0000"/>
<rect x="433" y="743.74" width="3.2" height="3.2" fill="#ff0000"/>
<rect x="433" y="722.86" width="3.2" height="3.2" fill="#ff0000"/>
<rect x="433" y="739.57" width="3.2" height="3.2" fill="#ff0000"/>
<rect x="433" y="764.63" width="3.2" height="3.2" fill="#ff0000"/>
<rect x="433" y="768.8" width="3.2" height="3.2" fill="#ff0000"/>
<rect x="433" y="752.1" width="3.2" height="3.2" fill="#ff0000"/>
<rect x="433" y="789.69" width="3.2" height="3.2" fill="#ff0000"/>
<line x1="465.9" y1="724.46" x2="486.9" y2="741.17" stroke="#222" stroke-width="0.9"/>
<line x1="465.9" y1="745.34" x2="486.9" y2="757.87" stroke="#222" stroke-width="0.9"/>
<line x1="465.9" y1="745.34" x2="486.9" y2="774.58" stroke="#222" stroke-width="0.9"/>
<line x1="465.9" y1="749.52" x2="486.9" y2="762.05" stroke="#222" stroke-width="0.9"/>
<line x1="465.9" y1="749.52" x2="486.9" y2="778.76" stroke="#222" stroke-width="0.9"/>
<line x1="465.9" y1="753.7" x2="486.9" y2="774.58" stroke="#222" stroke-width="0.9"/>
<line x1="465.9" y1="757.87" x2="486.9" y2="757.87" stroke="#222" stroke-width="0.9"/>
<line x1="465.9" y1="757.87" x2="486.9" y2="782.93" stroke="#222" stroke-width="0.9"/>
<line x1="465.9" y1="762.05" x2="486.9" y2="791.29" stroke="#222" stroke-width="0.9"/>
<line x1="465.9" y1="766.23" x2="486.9" y2="795.46" stroke="#222" stroke-width="0.9"/>
<line x1="465.9" y1="774.58" x2="486.9" y2="795.46" stroke="#222" stroke-width="0.9"/>
<circle cx="465.9" cy="724.46" r="1.75" fill="#0000ff"/>
<circle cx="465.9" cy="745.34" r="1.75" fill="#0000ff"/>
<circle cx="465.9" cy="745.34" r="1.75" fill="#0000ff"/>
<circle cx="465.9" cy="749.52" r="1.75" fill="#0000ff"/>
<circle cx="465.9" cy="749.52" r="1.75" fill="#0000ff"/>
<circle cx="465.9" cy="753.7" r="1.75" fill="#0000ff"/>
<circle cx="465.9" cy="757.87" r="1.75" fill="#0000ff"/>
<circle cx="465.9" cy="757.87" r="1.75" fill="#0000ff"/>
<circle cx="465.9" cy="762.05" r="1.75" fill="#0000ff"/>
<circle cx="465.9" cy="766.23" r="1.75" fill="#0000ff"/>
<circle cx="465.9" cy="774.58" r="1.75" fill="#0000ff"/>
<rect x="485.3" y="739.57" width="3.2" height="3.2" fill="#ff0000"/>
<rect x="485.3" y="756.27" width="3.2" height="3.2" fill="#ff0000"/>
<rect x="485.3" y="772.98" width="3.2" height="3.2" fill="#ff0000"/>
<rect x="485.3" y="760.45" width="3.2" height="3.2" fill="#ff0000"/>
<rect x="485.3" y="777.16" width="3.2" height="3.2" fill="#ff0000"/>
<rect x="485.3" y="772.98" width="3.2" height="3.2" fill="#ff0000"/>
<rect x="485.3" y="756.27" width="3.2" height="3.2" fill="#ff0000"/>
<rect x="485.3" y="781.33" width="3.2" height="3.2" fill="#ff0000"/>
<rect x="485.3" y="789.69" width="3.2" height="3.2" fill="#ff0000"/>
<rect x="485.3" y="793.86" width="3.2" height="3.2" fill="#ff0000"/>
<rect x="485.3" y="793.86" width="3.2" height="3.2" fill="#ff0000"/>
<line x1="517.9" y1="699.4" x2="538.9" y2="749.52" stroke="#222" stroke-width="0.9"/>
<line x1="517.9" y1="707.75" x2="538.9" y2="707.75" stroke="#222" stroke-width="0.9"/>
<line x1="517.9" y1="711.93" x2="538.9" y2="728.64" stroke="#222" stroke-width="0.9"/>
<line x1="517.9" y1="716.11" x2="538.9" y2="745.34" stroke="#222" stroke-width="0.9"/>
<line x1="517.9" y1="720.28" x2="538.9" y2="720.28" stroke="#222" stroke-width="0.9"/>
<line x1="517.9" y1="720.28" x2="538.9" y2="736.99" stroke="#222" stroke-width="0.9"/>
<line x1="517.9" y1="728.64" x2="538.9" y2="728.64" stroke="#222" stroke-width="0.9"/>
<line x1="517.9" y1="732.81" x2="538.9" y2="753.7" stroke="#222" stroke-width="0.9"/>
<line x1="517.9" y1="741.17" x2="538.9" y2="724.46" stroke="#222" stroke-width="0.9"/>
<line x1="517.9" y1="741.17" x2="538.9" y2="766.23" stroke="#222" stroke-width="0.9"/>
<circle cx="517.9" cy="699.4" r="1.75" fill="#0000ff"/>
<circle cx="517.9" cy="707.75" r="1.75" fill="#0000ff"/>
<circle cx="517.9" cy="711.93" r="1.75" fill="#0000ff"/>
<circle cx="517.9" cy="716.11" r="1.75" fill="#0000ff"/>
<circle cx="517.9" cy="720.28" r="1.75" fill="#0000ff"/>
<circle cx="517.9" cy="720.28" r="1.75" fill="#0000ff"/>
<circle cx="517.9" cy="728.64" r="1.75" fill="#0000ff"/>
<circle cx="517.9" cy="732.81" r="1.75" fill="#0000ff"/>
<circle cx="517.9" cy="741.17" r="1.75" fill="#0000ff"/>
<circle cx="517.9" cy="741.17" r="1.75" fill="#0000ff"/>
<rect x="537.3" y="747.92" width="3.2" height="3.2" fill="#ff0000"/>
<rect x="537.3" y="706.15" width="3.2" height="3.2" fill="#ff0000"/>
<rect x="537.3" y="727.04" width="3.2" height="3.2" fill="#ff0000"/>
<rect x="537.3" y="743.74" width="3.2" height="3.2" fill="#ff0000"/>
<rect x="537.3" y="718.68" width="3.2" height="3.2" fill="#ff0000"/>
<rect x="537.3" y="735.39" width="3.2" height="3.2" fill="#ff0000"/>
<rect x="537.3" y="727.04" width="3.2" height="3.2" fill="#ff0000"/>
<rect x="537.3" y="752.1" width="3.2" height="3.2" fill="#ff0000"/>
<rect x="537.3" y="722.86" width="3.2" height="3.2" fill="#ff0000"/>
<rect x="537.3" y="764.63" width="3.2" height="3.2" fill="#ff0000"/>
<line x1="570.4" y1="703.58" x2="591.4" y2="724.46" stroke="#222" stroke-width="0.9"/>
<line x1="570.4" y1="720.28" x2="591.4" y2="736.99" stroke="#222" stroke-width="0.9"/>
<line x1="570.4" y1="728.64" x2="591.4" y2="753.7" stroke="#222" stroke-width="0.9"/>
<line x1="570.4" y1="736.99" x2="591.4" y2="757.87" stroke="#222" stroke-width="0.9"/>
<line x1="570.4" y1="745.34" x2="591.4" y2="707.75" stroke="#222" stroke-width="0.9"/>
<line x1="570.4" y1="745.34" x2="591.4" y2="732.81" stroke="#222" stroke-width="0.9"/>
<line x1="570.4" y1="749.52" x2="591.4" y2="741.17" stroke="#222" stroke-width="0.9"/>
<line x1="570.4" y1="749.52" x2="591.4" y2="770.4" stroke="#222" stroke-width="0.9"/>
<line x1="570.4" y1="753.7" x2="591.4" y2="766.23" stroke="#222" stroke-width="0.9"/>
<line x1="570.4" y1="757.87" x2="591.4" y2="774.58" stroke="#222" stroke-width="0.9"/>
<circle cx="570.4" cy="703.58" r="1.75" fill="#0000ff"/>
<circle cx="570.4" cy="720.28" r="1.75" fill="#0000ff"/>
<circle cx="570.4" cy="728.64" r="1.75" fill="#0000ff"/>
<circle cx="570.4" cy="736.99" r="1.75" fill="#0000ff"/>
<circle cx="570.4" cy="745.34" r="1.75" fill="#0000ff"/>
<circle cx="570.4" cy="745.34" r="1.75" fill="#0000ff"/>
<circle cx="570.4" cy="749.52" r="1.75" fill="#0000ff"/>
<circle cx="570.4" cy="749.52" r="1.75" fill="#0000ff"/>
<circle cx="570.4" cy="753.7" r="1.75" fill="#0000ff"/>
<circle cx="570.4" cy="757.87" r="1.75" fill="#0000ff"/>
<rect x="589.8" y="722.86" width="3.2" height="3.2" fill="#ff0000"/>
<rect x="589.8" y="735.39" width="3.2" height="3.2" fill="#ff0000"/>
<rect x="589.8" y="752.1" width="3.2" height="3.2" fill="#ff0000"/>
<rect x="589.8" y="756.27" width="3.2" height="3.2" fill="#ff0000"/>
<rect x="589.8" y="706.15" width="3.2" height="3.2" fill="#ff0000"/>
<rect x="589.8" y="731.21" width="3.2" height="3.2" fill="#ff0000"/>
<rect x="589.8" y="739.57" width="3.2" height="3.2" fill="#ff0000"/>
<rect x="589.8" y="768.8" width="3.2" height="3.2" fill="#ff0000"/>
<rect x="589.8" y="764.63" width="3.2" height="3.2" fill="#ff0000"/>
<rect x="589.8" y="772.98" width="3.2" height="3.2" fill="#ff0000"/>
<text transform="translate(425.6 681.5) scale(0.91 1)" font-size="10.2" text-anchor="middle" fill="#222"><tspan font-style="italic">p</tspan> = 0.016</text>
<path d="M413.2 691.3V685.9H435.8V691.3" fill="none" stroke="#1a1a1a" stroke-width="1.5"/>
<text transform="translate(481.8 705.3) scale(0.91 1)" font-size="10.2" text-anchor="middle" fill="#222"><tspan font-style="italic">p</tspan> &lt; 0.001</text>
<path d="M465.5 715.8V710.5H488.1V715.8" fill="none" stroke="#1a1a1a" stroke-width="1.5"/>
<text transform="translate(528.5 681.5) scale(0.91 1)" font-size="10.2" text-anchor="middle" fill="#222"><tspan font-style="italic">p</tspan> = 0.04</text>
<path d="M517.5 691.3V685.9H540.1V691.3" fill="none" stroke="#1a1a1a" stroke-width="1.5"/>
<line x1="606.9" y1="687.8" x2="622.9" y2="687.8" stroke="#666" stroke-width="1.3"/>
<circle cx="614.9" cy="687.8" r="1.8" fill="#0000ff"/>
<text x="631.1" y="692.2" font-size="12.2" fill="#111">AMF OFF</text>
<line x1="606.9" y1="707.5" x2="622.9" y2="707.5" stroke="#666" stroke-width="1.3"/>
<circle cx="614.9" cy="707.5" r="1.8" fill="#ff0000"/>
<text x="631.1" y="711.9" font-size="12.2" fill="#111">AMF ON</text>
<text x="-0.6" y="875.2" font-size="15" font-weight="bold">K</text>
<line x1="62.5" y1="873.9" x2="62.5" y2="1021.1" stroke="#1a1a1a" stroke-width="1.6"/>
<line x1="56.2" y1="1020.3" x2="62.5" y2="1020.3" stroke="#1a1a1a" stroke-width="1.6"/>
<text x="54.8" y="1024.62" font-size="10.8" font-weight="bold" text-anchor="end">0.00</text>
<line x1="56.2" y1="991.02" x2="62.5" y2="991.02" stroke="#1a1a1a" stroke-width="1.6"/>
<text x="54.8" y="995.34" font-size="10.8" font-weight="bold" text-anchor="end">0.02</text>
<line x1="56.2" y1="961.74" x2="62.5" y2="961.74" stroke="#1a1a1a" stroke-width="1.6"/>
<text x="54.8" y="966.06" font-size="10.8" font-weight="bold" text-anchor="end">0.04</text>
<line x1="56.2" y1="932.46" x2="62.5" y2="932.46" stroke="#1a1a1a" stroke-width="1.6"/>
<text x="54.8" y="936.78" font-size="10.8" font-weight="bold" text-anchor="end">0.06</text>
<line x1="56.2" y1="903.18" x2="62.5" y2="903.18" stroke="#1a1a1a" stroke-width="1.6"/>
<text x="54.8" y="907.5" font-size="10.8" font-weight="bold" text-anchor="end">0.08</text>
<line x1="56.2" y1="873.9" x2="62.5" y2="873.9" stroke="#1a1a1a" stroke-width="1.6"/>
<text x="54.8" y="878.22" font-size="10.8" font-weight="bold" text-anchor="end">0.10</text>
<line x1="61.7" y1="1020.3" x2="283" y2="1020.3" stroke="#1a1a1a" stroke-width="1.6"/>
<line x1="94.1" y1="1020.3" x2="94.1" y2="1026.6" stroke="#1a1a1a" stroke-width="1.6"/>
<line x1="146.3" y1="1020.3" x2="146.3" y2="1026.6" stroke="#1a1a1a" stroke-width="1.6"/>
<line x1="198.6" y1="1020.3" x2="198.6" y2="1026.6" stroke="#1a1a1a" stroke-width="1.6"/>
<line x1="250.9" y1="1020.3" x2="250.9" y2="1026.6" stroke="#1a1a1a" stroke-width="1.6"/>
<text transform="translate(26.7 946.7) scale(0.92 1) rotate(-90)" font-size="12.3" font-weight="bold" text-anchor="middle">Initial dual stance [s]</text>
<text x="94.1" y="1038.9" font-size="10.6" font-weight="bold" text-anchor="middle">RF</text>
<text x="146.3" y="1038.9" font-size="10.6" font-weight="bold" text-anchor="middle">RH</text>
<text x="198.6" y="1038.9" font-size="10.6" font-weight="bold" text-anchor="middle">LF</text>
<text x="250.9" y="1038.9" font-size="10.6" font-weight="bold" text-anchor="middle">LH</text>
<line x1="83.6" y1="941.24" x2="104.6" y2="989.56" stroke="#222" stroke-width="0.9"/>
<line x1="83.6" y1="944.76" x2="104.6" y2="963.64" stroke="#222" stroke-width="0.9"/>
<line x1="83.6" y1="957.35" x2="104.6" y2="1009.32" stroke="#222" stroke-width="0.9"/>
<line x1="83.6" y1="977.4" x2="104.6" y2="1015.32" stroke="#222" stroke-width="0.9"/>
<line x1="83.6" y1="984.87" x2="104.6" y2="994.68" stroke="#222" stroke-width="0.9"/>
<line x1="83.6" y1="1003.76" x2="104.6" y2="967.3" stroke="#222" stroke-width="0.9"/>
<line x1="83.6" y1="1004.93" x2="104.6" y2="1007.27" stroke="#222" stroke-width="0.9"/>
<line x1="83.6" y1="1005.81" x2="104.6" y2="1015.32" stroke="#222" stroke-width="0.9"/>
<line x1="83.6" y1="1014.74" x2="104.6" y2="1001.85" stroke="#222" stroke-width="0.9"/>
<circle cx="83.6" cy="941.24" r="1.75" fill="#0000ff"/>
<circle cx="83.6" cy="944.76" r="1.75" fill="#0000ff"/>
<circle cx="83.6" cy="957.35" r="1.75" fill="#0000ff"/>
<circle cx="83.6" cy="977.4" r="1.75" fill="#0000ff"/>
<circle cx="83.6" cy="984.87" r="1.75" fill="#0000ff"/>
<circle cx="83.6" cy="1003.76" r="1.75" fill="#0000ff"/>
<circle cx="83.6" cy="1004.93" r="1.75" fill="#0000ff"/>
<circle cx="83.6" cy="1005.81" r="1.75" fill="#0000ff"/>
<circle cx="83.6" cy="1014.74" r="1.75" fill="#0000ff"/>
<rect x="103" y="987.96" width="3.2" height="3.2" fill="#ff0000"/>
<rect x="103" y="962.04" width="3.2" height="3.2" fill="#ff0000"/>
<rect x="103" y="1007.72" width="3.2" height="3.2" fill="#ff0000"/>
<rect x="103" y="1013.72" width="3.2" height="3.2" fill="#ff0000"/>
<rect x="103" y="993.08" width="3.2" height="3.2" fill="#ff0000"/>
<rect x="103" y="965.7" width="3.2" height="3.2" fill="#ff0000"/>
<rect x="103" y="1005.67" width="3.2" height="3.2" fill="#ff0000"/>
<rect x="103" y="1013.72" width="3.2" height="3.2" fill="#ff0000"/>
<rect x="103" y="1000.25" width="3.2" height="3.2" fill="#ff0000"/>
<line x1="135.8" y1="953.54" x2="156.8" y2="999.07" stroke="#222" stroke-width="0.9"/>
<line x1="135.8" y1="970.52" x2="156.8" y2="1003.46" stroke="#222" stroke-width="0.9"/>
<line x1="135.8" y1="977.99" x2="156.8" y2="985.16" stroke="#222" stroke-width="0.9"/>
<line x1="135.8" y1="980.04" x2="156.8" y2="1011.22" stroke="#222" stroke-width="0.9"/>
<line x1="135.8" y1="981.8" x2="156.8" y2="999.07" stroke="#222" stroke-width="0.9"/>
<line x1="135.8" y1="983.55" x2="156.8" y2="1018.1" stroke="#222" stroke-width="0.9"/>
<line x1="135.8" y1="992.63" x2="156.8" y2="1018.1" stroke="#222" stroke-width="0.9"/>
<line x1="135.8" y1="1001.71" x2="156.8" y2="1006.98" stroke="#222" stroke-width="0.9"/>
<line x1="135.8" y1="1003.46" x2="156.8" y2="1016.35" stroke="#222" stroke-width="0.9"/>
<line x1="135.8" y1="1006.98" x2="156.8" y2="1019.57" stroke="#222" stroke-width="0.9"/>
<line x1="135.8" y1="1016.35" x2="156.8" y2="1016.35" stroke="#222" stroke-width="0.9"/>
<circle cx="135.8" cy="953.54" r="1.75" fill="#0000ff"/>
<circle cx="135.8" cy="970.52" r="1.75" fill="#0000ff"/>
<circle cx="135.8" cy="977.99" r="1.75" fill="#0000ff"/>
<circle cx="135.8" cy="980.04" r="1.75" fill="#0000ff"/>
<circle cx="135.8" cy="981.8" r="1.75" fill="#0000ff"/>
<circle cx="135.8" cy="983.55" r="1.75" fill="#0000ff"/>
<circle cx="135.8" cy="992.63" r="1.75" fill="#0000ff"/>
<circle cx="135.8" cy="1001.71" r="1.75" fill="#0000ff"/>
<circle cx="135.8" cy="1003.46" r="1.75" fill="#0000ff"/>
<circle cx="135.8" cy="1006.98" r="1.75" fill="#0000ff"/>
<circle cx="135.8" cy="1016.35" r="1.75" fill="#0000ff"/>
<rect x="155.2" y="997.47" width="3.2" height="3.2" fill="#ff0000"/>
<rect x="155.2" y="1001.86" width="3.2" height="3.2" fill="#ff0000"/>
<rect x="155.2" y="983.56" width="3.2" height="3.2" fill="#ff0000"/>
<rect x="155.2" y="1009.62" width="3.2" height="3.2" fill="#ff0000"/>
<rect x="155.2" y="997.47" width="3.2" height="3.2" fill="#ff0000"/>
<rect x="155.2" y="1016.5" width="3.2" height="3.2" fill="#ff0000"/>
<rect x="155.2" y="1016.5" width="3.2" height="3.2" fill="#ff0000"/>
<rect x="155.2" y="1005.38" width="3.2" height="3.2" fill="#ff0000"/>
<rect x="155.2" y="1014.75" width="3.2" height="3.2" fill="#ff0000"/>
<rect x="155.2" y="1017.97" width="3.2" height="3.2" fill="#ff0000"/>
<rect x="155.2" y="1014.75" width="3.2" height="3.2" fill="#ff0000"/>
<line x1="188.1" y1="896.59" x2="209.1" y2="986.19" stroke="#222" stroke-width="0.9"/>
<line x1="188.1" y1="949.3" x2="209.1" y2="992.34" stroke="#222" stroke-width="0.9"/>
<line x1="188.1" y1="968.18" x2="209.1" y2="1005.81" stroke="#222" stroke-width="0.9"/>
<line x1="188.1" y1="970.52" x2="209.1" y2="1008" stroke="#222" stroke-width="0.9"/>
<line x1="188.1" y1="985.9" x2="209.1" y2="1005.81" stroke="#222" stroke-width="0.9"/>
<line x1="188.1" y1="987.95" x2="209.1" y2="997.02" stroke="#222" stroke-width="0.9"/>
<line x1="188.1" y1="992.34" x2="209.1" y2="986.19" stroke="#222" stroke-width="0.9"/>
<line x1="188.1" y1="1004.05" x2="209.1" y2="1008" stroke="#222" stroke-width="0.9"/>
<line x1="188.1" y1="1008.88" x2="209.1" y2="1013.27" stroke="#222" stroke-width="0.9"/>
<circle cx="188.1" cy="896.59" r="1.75" fill="#0000ff"/>
<circle cx="188.1" cy="949.3" r="1.75" fill="#0000ff"/>
<circle cx="188.1" cy="968.18" r="1.75" fill="#0000ff"/>
<circle cx="188.1" cy="970.52" r="1.75" fill="#0000ff"/>
<circle cx="188.1" cy="985.9" r="1.75" fill="#0000ff"/>
<circle cx="188.1" cy="987.95" r="1.75" fill="#0000ff"/>
<circle cx="188.1" cy="992.34" r="1.75" fill="#0000ff"/>
<circle cx="188.1" cy="1004.05" r="1.75" fill="#0000ff"/>
<circle cx="188.1" cy="1008.88" r="1.75" fill="#0000ff"/>
<rect x="207.5" y="984.59" width="3.2" height="3.2" fill="#ff0000"/>
<rect x="207.5" y="990.74" width="3.2" height="3.2" fill="#ff0000"/>
<rect x="207.5" y="1004.21" width="3.2" height="3.2" fill="#ff0000"/>
<rect x="207.5" y="1006.4" width="3.2" height="3.2" fill="#ff0000"/>
<rect x="207.5" y="1004.21" width="3.2" height="3.2" fill="#ff0000"/>
<rect x="207.5" y="995.42" width="3.2" height="3.2" fill="#ff0000"/>
<rect x="207.5" y="984.59" width="3.2" height="3.2" fill="#ff0000"/>
<rect x="207.5" y="1006.4" width="3.2" height="3.2" fill="#ff0000"/>
<rect x="207.5" y="1011.67" width="3.2" height="3.2" fill="#ff0000"/>
<line x1="240.4" y1="927.78" x2="261.4" y2="1008.88" stroke="#222" stroke-width="0.9"/>
<line x1="240.4" y1="966.72" x2="261.4" y2="1015.03" stroke="#222" stroke-width="0.9"/>
<line x1="240.4" y1="984.29" x2="261.4" y2="972.72" stroke="#222" stroke-width="0.9"/>
<line x1="240.4" y1="996.58" x2="261.4" y2="1012.39" stroke="#222" stroke-width="0.9"/>
<line x1="240.4" y1="1000.24" x2="261.4" y2="1017.66" stroke="#222" stroke-width="0.9"/>
<line x1="240.4" y1="1000.24" x2="261.4" y2="1008.88" stroke="#222" stroke-width="0.9"/>
<line x1="240.4" y1="1012.39" x2="261.4" y2="1000.24" stroke="#222" stroke-width="0.9"/>
<line x1="240.4" y1="1015.03" x2="261.4" y2="1017.66" stroke="#222" stroke-width="0.9"/>
<line x1="240.4" y1="1017.66" x2="261.4" y2="1020.3" stroke="#222" stroke-width="0.9"/>
<line x1="240.4" y1="1020.3" x2="261.4" y2="1015.03" stroke="#222" stroke-width="0.9"/>
<circle cx="240.4" cy="927.78" r="1.75" fill="#0000ff"/>
<circle cx="240.4" cy="966.72" r="1.75" fill="#0000ff"/>
<circle cx="240.4" cy="984.29" r="1.75" fill="#0000ff"/>
<circle cx="240.4" cy="996.58" r="1.75" fill="#0000ff"/>
<circle cx="240.4" cy="1000.24" r="1.75" fill="#0000ff"/>
<circle cx="240.4" cy="1000.24" r="1.75" fill="#0000ff"/>
<circle cx="240.4" cy="1012.39" r="1.75" fill="#0000ff"/>
<circle cx="240.4" cy="1015.03" r="1.75" fill="#0000ff"/>
<circle cx="240.4" cy="1017.66" r="1.75" fill="#0000ff"/>
<circle cx="240.4" cy="1020.3" r="1.75" fill="#0000ff"/>
<rect x="259.8" y="1007.28" width="3.2" height="3.2" fill="#ff0000"/>
<rect x="259.8" y="1013.43" width="3.2" height="3.2" fill="#ff0000"/>
<rect x="259.8" y="971.12" width="3.2" height="3.2" fill="#ff0000"/>
<rect x="259.8" y="1010.79" width="3.2" height="3.2" fill="#ff0000"/>
<rect x="259.8" y="1016.06" width="3.2" height="3.2" fill="#ff0000"/>
<rect x="259.8" y="1007.28" width="3.2" height="3.2" fill="#ff0000"/>
<rect x="259.8" y="998.64" width="3.2" height="3.2" fill="#ff0000"/>
<rect x="259.8" y="1016.06" width="3.2" height="3.2" fill="#ff0000"/>
<rect x="259.8" y="1018.7" width="3.2" height="3.2" fill="#ff0000"/>
<rect x="259.8" y="1013.43" width="3.2" height="3.2" fill="#ff0000"/>
<text transform="translate(145.7 922.2) scale(0.91 1)" font-size="10.2" text-anchor="middle" fill="#222"><tspan font-style="italic">p</tspan> = 0.002</text>
<path d="M135.7 933V927.6H157.7V933" fill="none" stroke="#1a1a1a" stroke-width="1.5"/>
<text transform="translate(200.7 876.6) scale(0.91 1)" font-size="10.2" text-anchor="middle" fill="#222"><tspan font-style="italic">p</tspan> = 0.025</text>
<path d="M188 886.6V881.4H210V886.6" fill="none" stroke="#1a1a1a" stroke-width="1.5"/>
<text x="337.6" y="873.7" font-size="15" font-weight="bold">L</text>
<line x1="388.3" y1="874.2" x2="388.3" y2="1021.1" stroke="#1a1a1a" stroke-width="1.6"/>
<line x1="382" y1="1020.3" x2="388.3" y2="1020.3" stroke="#1a1a1a" stroke-width="1.6"/>
<text x="380.6" y="1024.62" font-size="10.8" font-weight="bold" text-anchor="end">0</text>
<line x1="382" y1="983.77" x2="388.3" y2="983.77" stroke="#1a1a1a" stroke-width="1.6"/>
<text x="380.6" y="988.1" font-size="10.8" font-weight="bold" text-anchor="end">10</text>
<line x1="382" y1="947.25" x2="388.3" y2="947.25" stroke="#1a1a1a" stroke-width="1.6"/>
<text x="380.6" y="951.57" font-size="10.8" font-weight="bold" text-anchor="end">20</text>
<line x1="382" y1="910.73" x2="388.3" y2="910.73" stroke="#1a1a1a" stroke-width="1.6"/>
<text x="380.6" y="915.05" font-size="10.8" font-weight="bold" text-anchor="end">30</text>
<line x1="382" y1="874.2" x2="388.3" y2="874.2" stroke="#1a1a1a" stroke-width="1.6"/>
<text x="380.6" y="878.52" font-size="10.8" font-weight="bold" text-anchor="end">40</text>
<line x1="387.5" y1="1020.3" x2="608.8" y2="1020.3" stroke="#1a1a1a" stroke-width="1.6"/>
<line x1="419.9" y1="1020.3" x2="419.9" y2="1026.6" stroke="#1a1a1a" stroke-width="1.6"/>
<line x1="472.2" y1="1020.3" x2="472.2" y2="1026.6" stroke="#1a1a1a" stroke-width="1.6"/>
<line x1="524.5" y1="1020.3" x2="524.5" y2="1026.6" stroke="#1a1a1a" stroke-width="1.6"/>
<line x1="576.8" y1="1020.3" x2="576.8" y2="1026.6" stroke="#1a1a1a" stroke-width="1.6"/>
<text transform="translate(361.4 947.4) scale(0.92 1) rotate(-90)" font-size="12.1" font-weight="bold" text-anchor="middle">Bodyspeed variation [%]</text>
<text x="419.9" y="1038.9" font-size="10.6" font-weight="bold" text-anchor="middle">RF</text>
<text x="472.2" y="1038.9" font-size="10.6" font-weight="bold" text-anchor="middle">RH</text>
<text x="524.5" y="1038.9" font-size="10.6" font-weight="bold" text-anchor="middle">LF</text>
<text x="576.8" y="1038.9" font-size="10.6" font-weight="bold" text-anchor="middle">LH</text>
<line x1="409.4" y1="909.26" x2="430.4" y2="970.26" stroke="#222" stroke-width="0.9"/>
<line x1="409.4" y1="925.7" x2="430.4" y2="973.55" stroke="#222" stroke-width="0.9"/>
<line x1="409.4" y1="929.72" x2="430.4" y2="993.27" stroke="#222" stroke-width="0.9"/>
<line x1="409.4" y1="930.81" x2="430.4" y2="996.56" stroke="#222" stroke-width="0.9"/>
<line x1="409.4" y1="948.71" x2="430.4" y2="957.11" stroke="#222" stroke-width="0.9"/>
<line x1="409.4" y1="961.13" x2="430.4" y2="980.85" stroke="#222" stroke-width="0.9"/>
<line x1="409.4" y1="983.41" x2="430.4" y2="973.55" stroke="#222" stroke-width="0.9"/>
<line x1="409.4" y1="988.16" x2="430.4" y2="970.26" stroke="#222" stroke-width="0.9"/>
<line x1="409.4" y1="996.19" x2="430.4" y2="993.27" stroke="#222" stroke-width="0.9"/>
<line x1="409.4" y1="996.19" x2="430.4" y2="1002.04" stroke="#222" stroke-width="0.9"/>
<circle cx="409.4" cy="909.26" r="1.75" fill="#0000ff"/>
<circle cx="409.4" cy="925.7" r="1.75" fill="#0000ff"/>
<circle cx="409.4" cy="929.72" r="1.75" fill="#0000ff"/>
<circle cx="409.4" cy="930.81" r="1.75" fill="#0000ff"/>
<circle cx="409.4" cy="948.71" r="1.75" fill="#0000ff"/>
<circle cx="409.4" cy="961.13" r="1.75" fill="#0000ff"/>
<circle cx="409.4" cy="983.41" r="1.75" fill="#0000ff"/>
<circle cx="409.4" cy="988.16" r="1.75" fill="#0000ff"/>
<circle cx="409.4" cy="996.19" r="1.75" fill="#0000ff"/>
<circle cx="409.4" cy="996.19" r="1.75" fill="#0000ff"/>
<rect x="428.8" y="968.66" width="3.2" height="3.2" fill="#ff0000"/>
<rect x="428.8" y="971.95" width="3.2" height="3.2" fill="#ff0000"/>
<rect x="428.8" y="991.67" width="3.2" height="3.2" fill="#ff0000"/>
<rect x="428.8" y="994.96" width="3.2" height="3.2" fill="#ff0000"/>
<rect x="428.8" y="955.51" width="3.2" height="3.2" fill="#ff0000"/>
<rect x="428.8" y="979.25" width="3.2" height="3.2" fill="#ff0000"/>
<rect x="428.8" y="971.95" width="3.2" height="3.2" fill="#ff0000"/>
<rect x="428.8" y="968.66" width="3.2" height="3.2" fill="#ff0000"/>
<rect x="428.8" y="991.67" width="3.2" height="3.2" fill="#ff0000"/>
<rect x="428.8" y="1000.44" width="3.2" height="3.2" fill="#ff0000"/>
<line x1="461.7" y1="905.98" x2="482.7" y2="976.1" stroke="#222" stroke-width="0.9"/>
<line x1="461.7" y1="920.95" x2="482.7" y2="985.97" stroke="#222" stroke-width="0.9"/>
<line x1="461.7" y1="936.29" x2="482.7" y2="951.27" stroke="#222" stroke-width="0.9"/>
<line x1="461.7" y1="938.12" x2="482.7" y2="972.45" stroke="#222" stroke-width="0.9"/>
<line x1="461.7" y1="940.68" x2="482.7" y2="988.16" stroke="#222" stroke-width="0.9"/>
<line x1="461.7" y1="950.54" x2="482.7" y2="982.31" stroke="#222" stroke-width="0.9"/>
<line x1="461.7" y1="976.84" x2="482.7" y2="996.19" stroke="#222" stroke-width="0.9"/>
<line x1="461.7" y1="985.24" x2="482.7" y2="976.1" stroke="#222" stroke-width="0.9"/>
<line x1="461.7" y1="996.19" x2="482.7" y2="982.31" stroke="#222" stroke-width="0.9"/>
<line x1="461.7" y1="996.56" x2="482.7" y2="1002.04" stroke="#222" stroke-width="0.9"/>
<circle cx="461.7" cy="905.98" r="1.75" fill="#0000ff"/>
<circle cx="461.7" cy="920.95" r="1.75" fill="#0000ff"/>
<circle cx="461.7" cy="936.29" r="1.75" fill="#0000ff"/>
<circle cx="461.7" cy="938.12" r="1.75" fill="#0000ff"/>
<circle cx="461.7" cy="940.68" r="1.75" fill="#0000ff"/>
<circle cx="461.7" cy="950.54" r="1.75" fill="#0000ff"/>
<circle cx="461.7" cy="976.84" r="1.75" fill="#0000ff"/>
<circle cx="461.7" cy="985.24" r="1.75" fill="#0000ff"/>
<circle cx="461.7" cy="996.19" r="1.75" fill="#0000ff"/>
<circle cx="461.7" cy="996.56" r="1.75" fill="#0000ff"/>
<rect x="481.1" y="974.5" width="3.2" height="3.2" fill="#ff0000"/>
<rect x="481.1" y="984.37" width="3.2" height="3.2" fill="#ff0000"/>
<rect x="481.1" y="949.67" width="3.2" height="3.2" fill="#ff0000"/>
<rect x="481.1" y="970.85" width="3.2" height="3.2" fill="#ff0000"/>
<rect x="481.1" y="986.56" width="3.2" height="3.2" fill="#ff0000"/>
<rect x="481.1" y="980.71" width="3.2" height="3.2" fill="#ff0000"/>
<rect x="481.1" y="994.59" width="3.2" height="3.2" fill="#ff0000"/>
<rect x="481.1" y="974.5" width="3.2" height="3.2" fill="#ff0000"/>
<rect x="481.1" y="980.71" width="3.2" height="3.2" fill="#ff0000"/>
<rect x="481.1" y="1000.44" width="3.2" height="3.2" fill="#ff0000"/>
<line x1="514" y1="919.86" x2="535" y2="970.26" stroke="#222" stroke-width="0.9"/>
<line x1="514" y1="937.39" x2="535" y2="951.27" stroke="#222" stroke-width="0.9"/>
<line x1="514" y1="938.48" x2="535" y2="965.51" stroke="#222" stroke-width="0.9"/>
<line x1="514" y1="945.42" x2="535" y2="989.98" stroke="#222" stroke-width="0.9"/>
<line x1="514" y1="967.34" x2="535" y2="984.14" stroke="#222" stroke-width="0.9"/>
<line x1="514" y1="981.22" x2="535" y2="980.12" stroke="#222" stroke-width="0.9"/>
<line x1="514" y1="982.68" x2="535" y2="998.02" stroke="#222" stroke-width="0.9"/>
<line x1="514" y1="990.71" x2="535" y2="995.46" stroke="#222" stroke-width="0.9"/>
<line x1="514" y1="999.12" x2="535" y2="999.85" stroke="#222" stroke-width="0.9"/>
<line x1="514" y1="937.39" x2="535" y2="980.12" stroke="#222" stroke-width="0.9"/>
<circle cx="514" cy="919.86" r="1.75" fill="#0000ff"/>
<circle cx="514" cy="937.39" r="1.75" fill="#0000ff"/>
<circle cx="514" cy="938.48" r="1.75" fill="#0000ff"/>
<circle cx="514" cy="945.42" r="1.75" fill="#0000ff"/>
<circle cx="514" cy="967.34" r="1.75" fill="#0000ff"/>
<circle cx="514" cy="981.22" r="1.75" fill="#0000ff"/>
<circle cx="514" cy="982.68" r="1.75" fill="#0000ff"/>
<circle cx="514" cy="990.71" r="1.75" fill="#0000ff"/>
<circle cx="514" cy="999.12" r="1.75" fill="#0000ff"/>
<circle cx="514" cy="937.39" r="1.75" fill="#0000ff"/>
<rect x="533.4" y="968.66" width="3.2" height="3.2" fill="#ff0000"/>
<rect x="533.4" y="949.67" width="3.2" height="3.2" fill="#ff0000"/>
<rect x="533.4" y="963.91" width="3.2" height="3.2" fill="#ff0000"/>
<rect x="533.4" y="988.38" width="3.2" height="3.2" fill="#ff0000"/>
<rect x="533.4" y="982.54" width="3.2" height="3.2" fill="#ff0000"/>
<rect x="533.4" y="978.52" width="3.2" height="3.2" fill="#ff0000"/>
<rect x="533.4" y="996.42" width="3.2" height="3.2" fill="#ff0000"/>
<rect x="533.4" y="993.86" width="3.2" height="3.2" fill="#ff0000"/>
<rect x="533.4" y="998.25" width="3.2" height="3.2" fill="#ff0000"/>
<rect x="533.4" y="978.52" width="3.2" height="3.2" fill="#ff0000"/>
<line x1="566.3" y1="911.09" x2="587.3" y2="975.01" stroke="#222" stroke-width="0.9"/>
<line x1="566.3" y1="915.11" x2="587.3" y2="978.66" stroke="#222" stroke-width="0.9"/>
<line x1="566.3" y1="934.83" x2="587.3" y2="953.82" stroke="#222" stroke-width="0.9"/>
<line x1="566.3" y1="936.29" x2="587.3" y2="983.04" stroke="#222" stroke-width="0.9"/>
<line x1="566.3" y1="945.42" x2="587.3" y2="995.46" stroke="#222" stroke-width="0.9"/>
<line x1="566.3" y1="963.32" x2="587.3" y2="972.45" stroke="#222" stroke-width="0.9"/>
<line x1="566.3" y1="985.97" x2="587.3" y2="972.45" stroke="#222" stroke-width="0.9"/>
<line x1="566.3" y1="985.97" x2="587.3" y2="998.02" stroke="#222" stroke-width="0.9"/>
<line x1="566.3" y1="993.64" x2="587.3" y2="987.43" stroke="#222" stroke-width="0.9"/>
<line x1="566.3" y1="995.46" x2="587.3" y2="1000.58" stroke="#222" stroke-width="0.9"/>
<circle cx="566.3" cy="911.09" r="1.75" fill="#0000ff"/>
<circle cx="566.3" cy="915.11" r="1.75" fill="#0000ff"/>
<circle cx="566.3" cy="934.83" r="1.75" fill="#0000ff"/>
<circle cx="566.3" cy="936.29" r="1.75" fill="#0000ff"/>
<circle cx="566.3" cy="945.42" r="1.75" fill="#0000ff"/>
<circle cx="566.3" cy="963.32" r="1.75" fill="#0000ff"/>
<circle cx="566.3" cy="985.97" r="1.75" fill="#0000ff"/>
<circle cx="566.3" cy="985.97" r="1.75" fill="#0000ff"/>
<circle cx="566.3" cy="993.64" r="1.75" fill="#0000ff"/>
<circle cx="566.3" cy="995.46" r="1.75" fill="#0000ff"/>
<rect x="585.7" y="973.41" width="3.2" height="3.2" fill="#ff0000"/>
<rect x="585.7" y="977.06" width="3.2" height="3.2" fill="#ff0000"/>
<rect x="585.7" y="952.22" width="3.2" height="3.2" fill="#ff0000"/>
<rect x="585.7" y="981.44" width="3.2" height="3.2" fill="#ff0000"/>
<rect x="585.7" y="993.86" width="3.2" height="3.2" fill="#ff0000"/>
<rect x="585.7" y="970.85" width="3.2" height="3.2" fill="#ff0000"/>
<rect x="585.7" y="970.85" width="3.2" height="3.2" fill="#ff0000"/>
<rect x="585.7" y="996.42" width="3.2" height="3.2" fill="#ff0000"/>
<rect x="585.7" y="985.83" width="3.2" height="3.2" fill="#ff0000"/>
<rect x="585.7" y="998.98" width="3.2" height="3.2" fill="#ff0000"/>
<text transform="translate(418 890.1) scale(0.91 1)" font-size="10.2" text-anchor="middle" fill="#222"><tspan font-style="italic">p</tspan> = 0.021</text>
<path d="M409.6 899.6V894.2H430.5V899.6" fill="none" stroke="#1a1a1a" stroke-width="1.5"/>
<text transform="translate(470.5 890.1) scale(0.91 1)" font-size="10.2" text-anchor="middle" fill="#222"><tspan font-style="italic">p</tspan> = 0.018</text>
<path d="M461.9 899.6V894.2H482.8V899.6" fill="none" stroke="#1a1a1a" stroke-width="1.5"/>
<text transform="translate(525.5 890.1) scale(0.91 1)" font-size="10.2" text-anchor="middle" fill="#222"><tspan font-style="italic">p</tspan> = 0.01</text>
<path d="M514.2 899.6V894.2H535.1V899.6" fill="none" stroke="#1a1a1a" stroke-width="1.5"/>
<text transform="translate(577.3 890.1) scale(0.91 1)" font-size="10.2" text-anchor="middle" fill="#222"><tspan font-style="italic">p</tspan> = 0.28</text>
<path d="M566.5 899.6V894.2H587.4V899.6" fill="none" stroke="#1a1a1a" stroke-width="1.5"/>
<line x1="607.5" y1="884.2" x2="623.2" y2="884.2" stroke="#666" stroke-width="1.3"/>
<circle cx="615.35" cy="884.2" r="1.8" fill="#0000ff"/>
<text x="631.4" y="888.6" font-size="12.2" fill="#111">AMF OFF</text>
<line x1="607.5" y1="903.9" x2="623.2" y2="903.9" stroke="#666" stroke-width="1.3"/>
<circle cx="615.35" cy="903.9" r="1.8" fill="#ff0000"/>
<text x="631.4" y="908.3" font-size="12.2" fill="#111">AMF ON</text>
</svg>
</body></html>
